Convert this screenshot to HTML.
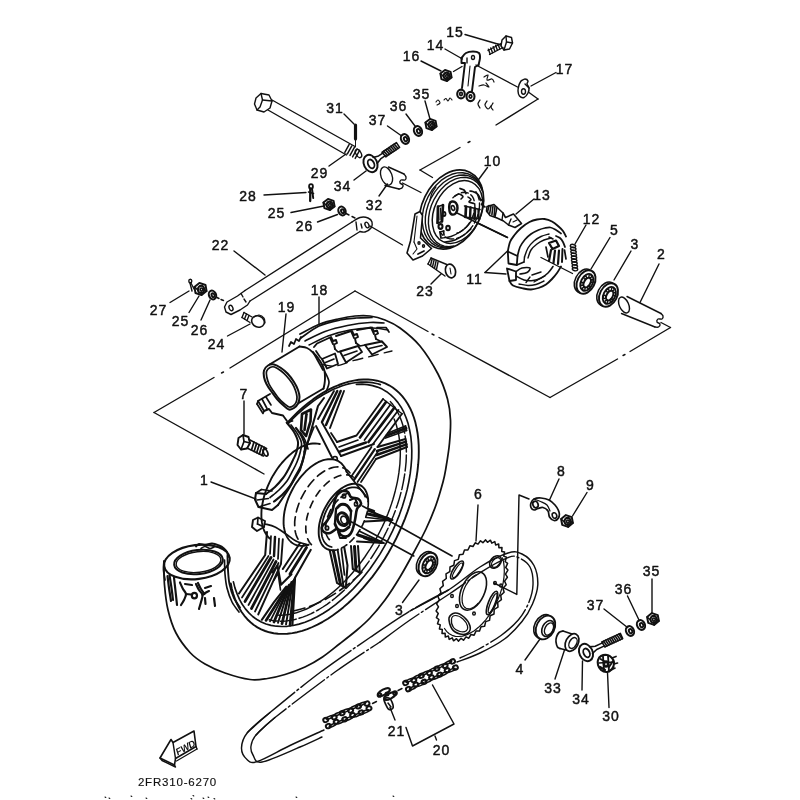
<!DOCTYPE html>
<html><head><meta charset="utf-8"><title>Rear wheel 2FR310-6270</title>
<style>
html,body{margin:0;padding:0;background:#fff;}
body{width:800px;height:800px;overflow:hidden;}
svg{display:block;filter:grayscale(1);}
svg text{font-family:"Liberation Sans",sans-serif;}
</style></head><body>
<svg width="800" height="800" viewBox="0 0 800 800">
<rect width="800" height="800" fill="#fff"/>
<g stroke="#111" stroke-width="1.4" fill="none" stroke-linecap="round" stroke-linejoin="round">
<g id="tire">
<path d="M300 334 C303.3 332.3 313.7 326.5 320 324 C326.3 321.5 332.2 320.3 338 319 C343.8 317.7 349.7 316.5 355 316 C360.3 315.5 365 315.3 370 316 C375 316.7 380 318 385 320 C390 322 394.2 323.7 400 328 C405.8 332.3 413.7 338.3 420 346 C426.3 353.7 433.4 365.2 438 374 C442.6 382.8 445.4 391.3 447.5 399 C449.6 406.7 450.2 412.7 450.5 420 C450.8 427.3 450.2 435.1 449.5 443 C448.8 450.9 447.1 461 446 467.5 C444.9 474 444.7 475.8 443 482 C441.3 488.2 438.8 497.2 436 505 C433.2 512.8 429.7 521.2 426 529 C422.3 536.8 418.3 544 414 552 C409.7 560 404.8 569 400 577 C395.2 585 390 593.2 385 600 C380 606.8 374.7 613 370 618 C365.3 623 362 625.8 357 630 C352 634.2 345.8 639 340 643.5 C334.2 648 328.3 653.1 322.5 657 C316.7 660.9 311.2 664.1 305 667 C298.8 669.9 291.2 672.6 285 674.5 C278.8 676.4 273.3 677.7 267.5 678.5 C261.7 679.3 257.1 680.4 250 679.5 C242.9 678.6 232.5 675.6 225 673 C217.5 670.4 210.8 667.4 205 664 C199.2 660.6 194.8 657.7 190 652.5 C185.2 647.3 179.7 640.1 176 633 C172.3 625.9 169.9 618 168 610 C166.1 602 165.2 593.2 164.5 585 C163.8 576.8 164.1 565 164 561" stroke-width="1.74"/>
<path d="M288 421.8 L292.9 416.8 L297.8 412 L302.8 407.5 L307.9 403.3 L313 399.4 L318.1 395.9 L323.3 392.6 L328.5 389.7 L333.6 387.2 L338.8 385 L343.9 383.1 L348.9 381.7 L353.8 380.6 L358.7 379.8 L363.4 379.5 L368.1 379.5 L372.6 379.9 L377 380.7 L381.2 381.9 L385.2 383.4 L389.1 385.3 L392.7 387.5 L396.2 390.2 L399.4 393.1 L402.4 396.4 L405.2 400 L407.8 404 L410.1 408.2 L412.1 412.7 L413.9 417.5 L415.4 422.6 L416.6 427.9 L417.6 433.5 L418.3 439.3 L418.7 445.3 L418.8 451.4 L418.7 457.7 L418.2 464.2 L417.5 470.8 L416.5 477.5 L415.2 484.3 L413.7 491.2 L411.9 498.1 L409.8 505 L407.5 511.9 L404.9 518.8 L402.1 525.7 L399 532.5 L395.8 539.3 L392.3 545.9 L388.6 552.5 L384.7 558.9 L380.7 565.1 L376.4 571.2 L372.1 577.1 L367.5 582.7 L362.9 588.2 L358.1 593.4 L353.2 598.3 L348.3 603 L343.2 607.4 L338.1 611.5 L333 615.3 L327.9 618.7 L322.7 621.8 L317.5 624.6 L312.4 627 L307.3 629.1 L302.2 630.8 L297.2 632.2 L292.3 633.1 L287.4 633.7 L282.7 633.9 L278.1 633.8 L273.7 633.2 L269.3 632.3 L265.2 631 L261.2 629.4 L257.4 627.4 L253.8 625 L250.5 622.3 L247.3 619.2 L244.4 615.8 L241.6 612 L239.2 608 L237 603.7 L235 599 L233.3 594.1 L231.9 589 L230.8 583.5" stroke-width="1.89"/>
<path d="M288.4 423.4 L291.4 420.2 L294.4 417.2 L297.5 414.2 L300.7 411.3 L303.8 408.6 L307 406 L310.2 403.5 L313.4 401.1 L316.6 398.8 L319.9 396.7 L323.1 394.7 L326.4 392.9 L329.6 391.2 L332.8 389.6 L336 388.2 L339.2 386.9 L342.4 385.8 L345.6 384.8 L348.7 383.9 L351.8 383.2 L354.9 382.7 L357.9 382.3 L360.9 382.1 L363.9 382 L366.7 382.1 L369.6 382.3 L372.4 382.6 L375.1 383.2 L377.8 383.8 L380.4 384.6" stroke-width="1.66"/>
<path d="M356.4 384.4 L362 384.2 L367.4 384.6 L372.6 385.6 L377.5 387.1 L382.2 389.1 L386.6 391.7 L390.7 394.8 L394.5 398.5 L398 402.6 L401.1 407.2 L403.8 412.2 L406.1 417.7 L408.1 423.6 L409.6 429.9 L410.8 436.5 L411.5 443.4 L411.8 450.7 L411.7 458.1 L411.1 465.8 L410.2 473.7 L408.8 481.8 L407.1 489.9 L404.9 498.1 L402.4 506.3 L399.5 514.6 L396.2 522.8 L392.6 530.9 L388.6 538.9 L384.3 546.7 L379.8 554.4 L374.9 561.8 L369.9 569 L364.6 575.8 L359.1 582.4 L353.4 588.6 L347.6 594.4 L341.6 599.7 L335.6 604.7 L329.5 609.2 L323.3 613.2 L317.2 616.7 L311.1 619.7 L305 622.2 L299 624.1 L293.1 625.5 L287.3 626.3 L281.7 626.5 L276.3 626.2 L271 625.4 L266 624 L261.3 622 L256.9 619.5 L252.7 616.5 L248.9 612.9 L245.4 608.9 L242.2 604.3 L239.5 599.3 L237.1 593.9 L235 588.1 L233.4 581.9" stroke-width="1.66"/>
<path d="M390.4 401.6 L392.7 404.3 L394.8 407.3 L396.7 410.4 L398.5 413.8 L400.1 417.4 L401.5 421.1 L402.8 425 L403.8 429.2 L404.7 433.4 L405.4 437.8 L405.9 442.4 L406.2 447.1 L406.4 451.9 L406.3 456.8 L406.1 461.9 L405.6 467 L405 472.2 L404.2 477.5 L403.2 482.8 L402.1 488.2 L400.7 493.6 L399.2 499.1 L397.5 504.5 L395.6 509.9 L393.5 515.4 L391.3 520.8 L389 526.2 L386.5 531.5 L383.8 536.8 L381 542 L378.1 547.1 L375 552.1 L371.9 557 L368.6 561.8 L365.2 566.5 L361.7 571 L358.1 575.4 L354.4 579.7 L350.6 583.8 L346.8 587.7 L342.9 591.4 L339 594.9 L335 598.3 L331 601.4 L327 604.3 L322.9 607 L318.9 609.5 L314.8 611.8 L310.7 613.8 L306.7 615.6 L302.7 617.1 L298.7 618.4 L294.8 619.5 L290.9 620.3 L287.1 620.9 L283.3 621.2 L279.7 621.2 L276.1 621 L272.6 620.5 L269.2 619.8" stroke-width="1.45" stroke-dasharray="16 3"/>
<path d="M394.1 418.9 L395.3 422.1 L396.4 425.3 L397.3 428.7 L398.2 432.2 L398.9 435.8 L399.4 439.6 L399.8 443.4 L400.1 447.4 L400.3 451.4 L400.3 455.5 L400.1 459.7 L399.9 464 L399.4 468.3 L398.9 472.7 L398.2 477.1 L397.4 481.6 L396.4 486.1 L395.3 490.7 L394.1 495.2 L392.8 499.8 L391.3 504.4 L389.7 509 L388 513.5 L386.1 518.1 L384.2 522.6 L382.1 527.1 L379.9 531.5 L377.6 535.9 L375.2 540.3 L372.8 544.6 L370.2 548.8 L367.5 552.9 L364.8 557 L361.9 561 L359 564.8 L356 568.6 L353 572.2 L349.9 575.8 L346.7 579.2 L343.5 582.5 L340.3 585.7 L337 588.7 L333.7 591.6 L330.3 594.3 L326.9 596.9 L323.5 599.3 L320.1 601.6 L316.7 603.7 L313.3 605.6 L309.9 607.4 L306.5 609 L303.1 610.4 L299.7 611.6 L296.4 612.7 L293.1 613.5 L289.8 614.2 L286.6 614.7 L283.4 615.1 L280.3 615.2 L277.3 615.1" stroke-width="1.45"/>
</g>
<g id="spokes">
<path d="M287 423 C288.2 424.5 292.2 428.8 294 432 C295.8 435.2 297.6 438.7 298 442 C298.4 445.3 297.3 449 296.5 452 C295.7 455 294.4 457 293 460 C291.6 463 289.7 467 288 470 C286.3 473 285.2 475.2 283 478 C280.8 480.8 277.8 484.3 275 487 C272.2 489.7 267.5 492.8 266 494" stroke-width="2.03"/>
<path d="M291 425 C292.1 426.5 295.8 431 297.5 434 C299.2 437 301.1 439.8 301.5 443 C301.9 446.2 300.8 449.8 300 453 C299.2 456.2 298.3 458.8 297 462 C295.7 465.2 293.7 468.8 292 472 C290.3 475.2 289.2 478 287 481 C284.8 484 281.8 487.2 279 490 C276.2 492.8 271.5 496.2 270 497.5" stroke-width="1.66"/>
<path d="M296 428 C297 429.5 300.5 434 302 437 C303.5 440 304.7 442.8 305 446 C305.3 449.2 304.7 452.7 304 456 C303.3 459.3 302.5 462.5 301 466 C299.5 469.5 296.8 473.7 295 477 C293.2 480.3 292.2 483 290 486 C287.8 489 284.7 492.4 282 495 C279.3 497.6 275.3 500.4 274 501.5" stroke-width="2.17"/>
<path d="M300 432 C300.8 433.3 303.7 437.2 305 440 C306.3 442.8 307.5 447.5 308 449" stroke-width="1.66"/>
<path d="M286.5 422.5 L292.5 421" stroke-width="1.74"/>
<path d="M266 494 L256 493 L255 499.5 L258.5 507 L272 510 L278 505" stroke-width="2.03"/>
<path d="M256 493 L261.5 489.5" stroke-width="1.66"/>
<path d="M261.5 489.5 L272 491" stroke-width="1.66"/>
<path d="M258.5 507 L270 503.5" stroke-width="1.66"/>
<path d="M257 500 L268.5 498.5" stroke-width="1.45"/>
<path d="M324 398 L318 406 L309 438 L305 452 L300 470 L288 490 L278 505" stroke-width="2.03"/>
<path d="M302 414 L311 409.5 L310.5 421 L306 436 L301 430 Z" stroke-width="2.61"/>
<path d="M306.5 414 L304.5 430" stroke-width="2.61"/>
<path d="M314 427 L304 452" stroke-width="1.66"/>
<path d="M318 419 L334 391" stroke-width="1.89"/>
<path d="M322 422 L337.3 391" stroke-width="2.46"/>
<path d="M326 425 L340.7 391" stroke-width="2.46"/>
<path d="M330 428 L344 391" stroke-width="1.89"/>
<path d="M316 426 L332 457.5" stroke-width="1.89"/>
<path d="M322 422.5 L341 456" stroke-width="1.89"/>
<ellipse cx="335" cy="459" rx="2.3" ry="2.5" stroke-width="1.74"/>
<path d="M337 442 L356.5 435.5 L383 399" stroke-width="1.89"/>
<path d="M331 433 L337 442" stroke-width="1.74"/>
<path d="M341 456 L374 444" stroke-width="1.89"/>
<path d="M339 447 L358 440" stroke-width="1.66"/>
<path d="M340 451.5 L366 442.5" stroke-width="2.61"/>
<path d="M360 437.5 L386 402" stroke-width="2.75"/>
<path d="M364.5 440 L390.5 404.5" stroke-width="1.74"/>
<path d="M368.5 442 L394.5 407.5" stroke-width="2.75"/>
<path d="M373 444 L398.5 410" stroke-width="1.74"/>
<path d="M377.5 447 L402 413.8" stroke-width="1.89"/>
<path d="M383 399 L402 413.8" stroke-width="1.45"/>
<path d="M388 433 L405.5 426" stroke-width="1.74"/>
<path d="M386.8 435.5 L406 428.2" stroke-width="2.9"/>
<path d="M385.5 438 L406.5 430.5" stroke-width="1.74"/>
<path d="M377.5 447 L405.5 439" stroke-width="1.89"/>
<path d="M377 451 L406 441.7" stroke-width="2.46"/>
<path d="M376.5 455 L406.5 444.3" stroke-width="2.46"/>
<path d="M376 459 L407 447" stroke-width="1.89"/>
<path d="M405.5 426 L406.5 430.5" stroke-width="1.66"/>
<path d="M405.5 439 L407 447" stroke-width="1.66"/>
<path d="M371.5 447 L347.5 482" stroke-width="1.74"/>
<path d="M374.8 449.2 L352.5 482" stroke-width="2.32"/>
<path d="M378 451.5 L357.5 482" stroke-width="1.74"/>
<path d="M376 459 L361 482" stroke-width="1.74"/>
<path d="M360 507.5 L392.5 520 L356 522" stroke-width="1.89"/>
<path d="M359 512 L388 518.5" stroke-width="2.9"/>
<path d="M358 516.5 L389 520" stroke-width="1.74"/>
<path d="M366 508 L374 511" stroke-width="2.32"/>
<path d="M358 530.5 L384 543 L357 541.5" stroke-width="1.89"/>
<path d="M358 535 L381 542.5" stroke-width="2.9"/>
<path d="M364 538 L372 541" stroke-width="1.89"/>
<path d="M328 542.5 L337 583 L345.8 588.2 L347.5 565.5 L344 546" stroke-width="2.03"/>
<path d="M332 544 L340.5 584.5" stroke-width="3.04"/>
<path d="M337 546 L343.5 586" stroke-width="1.89"/>
<path d="M341 546 L344.5 575" stroke-width="1.74"/>
<path d="M351 546 L352.8 569 L359.8 572.5 L358 546" stroke-width="2.03"/>
<path d="M354.5 546.5 L356 570" stroke-width="3.04"/>
<path d="M267 532 L265.2 555 L239 593.5" stroke-width="2.03"/>
<path d="M282.8 539.2 L281 563.8 L258.2 614.5" stroke-width="1.89"/>
<path d="M268.5 556 L242 597.5" stroke-width="1.74"/>
<path d="M271 557.5 L245 601.5" stroke-width="2.75"/>
<path d="M273.5 559.5 L248.5 605" stroke-width="1.74"/>
<path d="M276 561.5 L251.5 608.5" stroke-width="2.75"/>
<path d="M278.5 563 L255 611.5" stroke-width="1.74"/>
<path d="M271 536 L270 554" stroke-width="1.74"/>
<path d="M275 537 L274 556" stroke-width="2.46"/>
<path d="M279 538.5 L278 559" stroke-width="1.74"/>
<path d="M272.2 572.5 L277.5 565.5 L281 584.8 L291.5 574.2" stroke-width="2.03"/>
<path d="M274 580 L278 573 L280.5 590" stroke-width="1.66"/>
<path d="M300.2 542.8 L282.8 569" stroke-width="2.03"/>
<path d="M310.8 549.8 L295 577.8" stroke-width="2.03"/>
<path d="M303.5 545 L286 571.5" stroke-width="1.74"/>
<path d="M306.5 547.5 L290 574" stroke-width="2.9"/>
<path d="M295 577.8 L292.4 625" stroke-width="2.17"/>
<path d="M286.2 586.5 L274 602.2 L261.8 619.8" stroke-width="2.03"/>
<path d="M286.5 588 L266 620.5" stroke-width="2.61"/>
<path d="M287.8 586.6 L270 621.3" stroke-width="1.74"/>
<path d="M289.1 585.2 L274 622.1" stroke-width="2.75"/>
<path d="M290.4 583.8 L278 622.9" stroke-width="1.89"/>
<path d="M291.7 582.4 L282 623.7" stroke-width="2.75"/>
<path d="M293 581 L286 624.5" stroke-width="1.89"/>
<path d="M294.3 579.6 L290 625.3" stroke-width="2.61"/>
<path d="M293.2 611 C295.7 610.3 303 608.8 308 607 C313 605.2 318.3 602.8 323 600.5 C327.7 598.2 331.9 595.6 336 593 C340.1 590.4 344 587.4 347.5 584.8 C351 582.1 354.1 579.6 357 577 C359.9 574.4 363.7 570.3 365 569" stroke-width="1.66" stroke-dasharray="12 5"/>
</g>
<g id="hub">
<path d="M269.7 538.5 L268.1 536.9 L266.7 535.1 L265.4 533 L264.2 530.8 L263.3 528.3 L262.5 525.7 L262 522.9 L261.6 520 L261.4 516.9 L261.4 513.7 L261.5 510.4 L261.9 507 L262.5 503.5 L263.2 500 L264.1 496.4 L265.2 492.9 L266.5 489.3 L267.9 485.8 L269.5 482.3 L271.2 478.8 L273.1 475.4 L275.1 472.2 L277.2 469 L279.5 465.9 L281.8 463 L284.2 460.3 L286.7 457.7 L289.3 455.3 L291.9 453.1 L294.5 451.1 L297.2 449.3 L299.8 447.7 L302.5 446.4 L305.1 445.3 L307.7 444.4 L310.3 443.8 L312.8 443.5 L315.2 443.4 L317.5 443.6 L319.8 444" stroke-width="1.89"/>
<path d="M285 532.2 L284.4 529.6 L283.9 526.9 L283.6 524 L283.6 521.1 L283.7 518 L284 514.8 L284.5 511.5 L285.2 508.2 L286.1 504.8 L287.2 501.5 L288.4 498.1 L289.8 494.8 L291.4 491.5 L293.1 488.2 L294.9 485.1 L296.9 482.1 L299 479.2 L301.2 476.4 L303.5 473.8 L305.8 471.3 L308.2 469.1 L310.7 467 L313.2 465.2 L315.7 463.6 L318.2 462.2 L320.7 461.1 L323.2 460.2 L325.6 459.6 L328 459.2 L330.3 459.1 L332.5 459.2 L334.6 459.6 L336.6 460.3 L338.5 461.2 L340.2 462.4 L341.8 463.8 L343.2 465.5 L344.5 467.3 L345.6 469.4 L346.5 471.7 L368.1 498.9 L368.1 498.9 L368.3 501.9 L368.2 505.1 L367.8 508.4 L367.2 511.8 L366.3 515.2 L365.2 518.7 L363.8 522.2 L362.2 525.6 L360.4 528.9 L358.5 532.1 L356.3 535.1 L354 537.9 L351.6 540.5 L349.1 542.8 L346.6 544.9 L344 546.6 L341.4 548.1 L338.8 549.1 L336.3 549.9 L333.9 550.3 L286 534.8 L286 534.8 L285.6 534 L285.3 533.1 L285 532.2" stroke-width="1.89" fill="#fff" stroke="none"/>
<path d="M285 532.2 L284.4 529.6 L283.9 526.9 L283.6 524 L283.6 521.1 L283.7 518 L284 514.8 L284.5 511.5 L285.2 508.2 L286.1 504.8 L287.2 501.5 L288.4 498.1 L289.8 494.8 L291.4 491.5 L293.1 488.2 L294.9 485.1 L296.9 482.1 L299 479.2 L301.2 476.4 L303.5 473.8 L305.8 471.3 L308.2 469.1 L310.7 467 L313.2 465.2 L315.7 463.6 L318.2 462.2 L320.7 461.1 L323.2 460.2 L325.6 459.6 L328 459.2 L330.3 459.1 L332.5 459.2 L334.6 459.6 L336.6 460.3 L338.5 461.2 L340.2 462.4 L341.8 463.8 L343.2 465.5 L344.5 467.3 L345.6 469.4 L346.5 471.7" stroke-width="1.89"/>
<path d="M308.8 544.7 L307.1 545.2 L305.5 545.5 L303.9 545.8 L302.4 545.9 L300.8 545.9 L299.4 545.7 L297.9 545.5 L296.5 545.1 L295.2 544.6 L293.9 544 L292.7 543.3 L291.6 542.5 L290.5 541.5 L289.5 540.5 L288.5 539.3 L287.7 538.1 L286.9 536.7 L286.2 535.3 L285.5 533.8 L285 532.2" stroke-width="1.74"/>
<path d="M346.5 471.7 L368.1 498.9" stroke-width="1.74"/>
<path d="M298 539.2 L297 537.2 L296.2 535.1 L295.5 532.7 L295 530.2 L294.8 527.6 L294.7 524.8 L294.7 521.9 L295 518.9 L295.5 515.9 L296.1 512.8 L296.9 509.6 L297.9 506.5 L299 503.3 L300.3 500.2 L301.8 497.1 L303.4 494.1 L305.1 491.2 L306.9 488.3 L308.9 485.6 L310.9 483 L313.1 480.5 L315.3 478.3 L317.5 476.2 L319.8 474.2 L322.2 472.5 L324.5 471 L326.9 469.7 L329.2 468.7 L331.5 467.9 L333.8 467.3 L336 467 L338.1 466.9 L340.2 467.1 L342.1 467.5 L344 468.2 L345.7 469.1 L347.3 470.2 L348.8 471.6 L350.1 473.1 L351.3 474.9" stroke-width="1.66" stroke-dasharray="9 5"/>
<path d="M311.4 544.6 L310.2 543.3 L309.1 541.7 L308.2 540 L307.4 538.1 L306.7 536.1 L306.3 533.9 L305.9 531.5 L305.8 529.1 L305.8 526.6 L305.9 524 L306.3 521.3 L306.7 518.5 L307.4 515.7 L308.2 512.9 L309.1 510.1 L310.2 507.3 L311.4 504.5 L312.7 501.8 L314.2 499.1 L315.7 496.5 L317.4 493.9 L319.1 491.5 L321 489.2 L322.9 487 L324.9 485 L326.9 483.1 L329 481.4 L331.1 479.9 L333.2 478.6 L335.3 477.4 L337.4 476.5 L339.4 475.7 L341.5 475.2 L343.4 474.9 L345.4 474.8 L347.2 474.9 L349 475.2 L350.7 475.7 L352.3 476.5 L353.7 477.4" stroke-width="1.66" stroke-dasharray="7 6"/>
<path d="M333.9 550.3 L331.9 550.3 L330.1 550.1 L328.4 549.6 L326.7 548.9 L325.2 548 L323.9 546.9 L322.6 545.5 L321.6 543.9 L320.7 542.2 L319.9 540.2 L319.3 538.1 L318.9 535.8 L318.7 533.4 L318.7 530.9 L318.8 528.2 L319.1 525.5 L319.6 522.7 L320.3 519.9 L321.2 517.1 L322.2 514.2 L323.3 511.4 L324.6 508.7 L326.1 505.9 L327.7 503.3 L329.3 500.8 L331.1 498.4 L333 496.1 L335 493.9 L337 492 L339.1 490.2 L341.2 488.6 L343.3 487.3 L345.4 486.1 L347.5 485.2 L349.6 484.5 L351.6 484 L353.6 483.8 L355.5 483.9 L357.3 484.1 L359 484.6 L360.6 485.4 L362.1 486.4 L363.4 487.6 L364.6 489 L365.6 490.6 L366.5 492.5 L367.2 494.5 L367.7 496.6 L368.1 498.9 L368.2 501.4" stroke-width="1.89"/>
<path d="M368.2 501.4 L368.3 503.4 L368.2 505.4 L367.9 507.5 L367.6 509.7 L367.2 511.9 L366.7 514.1 L366 516.3 L365.3 518.5 L364.4 520.7 L363.5 522.9 L362.5 525.1 L361.4 527.2 L360.2 529.3 L358.9 531.4 L357.6 533.4 L356.2 535.3 L354.7 537.1 L353.2 538.8 L351.7 540.4 L350.1 542 L348.5 543.4 L346.9 544.7 L345.2 545.9 L343.6 546.9 L341.9 547.8 L340.2 548.6 L338.6 549.2 L337 549.7 L335.4 550.1 L333.9 550.3" stroke-width="1.66" stroke-dasharray="6 4"/>
<path d="M331.7 547 L329.4 546.3 L327.3 545.2 L325.5 543.5 L324 541.5 L322.9 539 L322 536.2 L321.6 533.1 L321.4 529.7 L321.7 526.1 L322.3 522.4 L323.3 518.6 L324.6 514.7 L326.2 510.9 L328.1 507.2 L330.3 503.7 L332.7 500.4 L335.2 497.4 L338 494.7 L340.8 492.3 L343.6 490.4 L346.5 488.9 L349.3 487.9 L352 487.3 L354.6 487.3 L357 487.7 L359.2 488.6 L361.2 490 L362.8 491.9 L364.2 494.1 L365.2 496.7" stroke-width="1.74"/>
<path d="M329.4 539.7 L328.5 538.6 L327.7 537.4 L327 536 L326.4 534.5 L326 532.8 L325.7 531.1 L325.6 529.2 L325.6 527.2 L325.8 525.2 L326.1 523.1 L326.5 521 L327 518.8 L327.7 516.6 L328.6 514.5 L329.5 512.3 L330.5 510.2 L331.7 508.2 L332.9 506.2 L334.3 504.3 L335.7 502.5 L337.2 500.8 L338.7 499.3 L340.3 497.8 L341.9 496.6 L343.5 495.5 L345.1 494.5 L346.7 493.8 L348.3 493.2 L349.9 492.8 L351.4 492.5" stroke-width="1.66" stroke-dasharray="8 4"/>
<path d="M342.5 491 C344.2 490.8 346.6 491 348 492 C349.4 493 349.2 495.8 351 497 C352.8 498.2 356.8 497.8 358.5 499 C360.2 500.2 361.2 502.3 361 504 C360.8 505.7 358 506.3 357 509 C356 511.7 355.8 516.3 355 520 C354.2 523.7 353.2 528.3 352 531 C350.8 533.7 349.8 535.3 348 536 C346.2 536.7 342.8 536.2 341 535 C339.2 533.8 338.8 529.3 337 529 C335.2 528.7 332.2 532.5 330 533 C327.8 533.5 325.3 533 324 532 C322.7 531 321.5 528.8 322 527 C322.5 525.2 325.3 523.5 327 521 C328.7 518.5 330.7 515.5 332 512 C333.3 508.5 334 503.2 335 500 C336 496.8 336.8 494.5 338 493 C339.2 491.5 340.8 491.2 342.5 491 Z" stroke-width="2.61"/>
<ellipse cx="342.8" cy="519.2" rx="5.2" ry="6.6" stroke-width="2.9" transform="rotate(-25 342.8 519.2)"/>
<ellipse cx="344" cy="520" rx="3" ry="4" stroke-width="1.66" transform="rotate(-25 344 520)"/>
<ellipse cx="344" cy="496" rx="1.6" ry="2" stroke-width="1.74"/>
<ellipse cx="327" cy="528" rx="1.6" ry="2" stroke-width="1.74"/>
<ellipse cx="356" cy="504" rx="1.5" ry="2" stroke-width="1.74"/>
<path d="M337 508 C337.7 507.4 339.3 504.9 341 504.5 C342.7 504.1 345.3 504.4 347 505.5 C348.7 506.6 350.3 510.1 351 511" stroke-width="2.9"/>
<path d="M335 524 C335.5 524.9 336.5 528.4 338 529.5 C339.5 530.6 342.2 530.9 344 530.5 C345.8 530.1 348.2 527.6 349 527" stroke-width="2.9"/>
<path d="M336 509 L335 523" stroke-width="2.32"/>
<path d="M351 512 L350 525" stroke-width="2.32"/>
<path d="M350 500 L355 498 L357 503" stroke-width="2.03"/>
<path d="M338 532 L340 538 L346 538" stroke-width="1.89"/>
<path d="M253 520 L258 517.5 L265 521 L264 527 L257 531 L252 527 Z" stroke-width="1.89"/>
<path d="M258 517.5 L257.5 524" stroke-width="1.66"/>
<path d="M257.5 524 L264 527" stroke-width="1.66"/>
<path d="M265 524 C266.7 524.5 271.5 525.3 275 527 C278.5 528.7 282.5 531.7 286 534 C289.5 536.3 292.3 539.2 296 541 C299.7 542.8 306 544.3 308 545" stroke-width="1.74"/>
</g>
<g id="hubaxis">
<path d="M362.5 506 L452 556" stroke-width="1.66"/>
<path d="M347 519.5 L413.8 556" stroke-width="1.66"/>
</g>
<g id="tube19">
<path d="M301 338 C304 336 312.5 329 319 326 C325.5 323 333.8 321.3 340 320 C346.2 318.7 350.7 318.4 356 318 C361.3 317.6 369.3 317.6 372 317.5" stroke-width="1.66"/>
<path d="M305 341 C308.3 339.4 317.9 334.1 325 331.5 C332.1 328.9 340 327 347.5 325.5 C355 324 363.9 322.9 370 322.5 C376.1 322.1 381.7 322.9 384 323" stroke-width="1.66"/>
<path d="M309 345 C312.2 343.5 321.2 338.5 328 336 C334.8 333.5 342.7 331.3 350 330 C357.3 328.7 365.7 328 372 328 C378.3 328 385.3 329.7 388 330" stroke-width="1.45"/>
<path d="M289 346 L291 342 L294 344 L296 339 L299 341 L301 337" stroke-width="1.74"/>
<path d="M314 347 L317 343.5 L330 337.5 L333 344" stroke-width="1.89"/>
<path d="M336 336 L351 331 L354 338" stroke-width="1.89"/>
<path d="M357 330 L371 327.5 L374 334" stroke-width="1.89"/>
<path d="M377 327.5 L386 327.5 L389 332" stroke-width="1.74"/>
<path d="M331 337 L333 341 L336 340 L337 343 L334 344.5 L335 349" stroke-width="1.89"/>
<path d="M352 331 L354 335 L357 334 L358 337 L355 338.5 L356 343" stroke-width="1.89"/>
<path d="M372 327.5 L374 331.5 L377 330.5 L378 333.5 L375 335 L376 339" stroke-width="1.89"/>
<path d="M322 359 L335 353.5 L338 364 L327 368.5 Z" stroke-width="1.89"/>
<path d="M340 351.5 L358 346 L362 352 L346 362.5 Z" stroke-width="1.89"/>
<path d="M365 345 L382 341.5 L387 347 L372 354.5 Z" stroke-width="1.89"/>
<path d="M316 351 L320 357 L322 359" stroke-width="1.74"/>
<path d="M335 349 L338 352 L340 351.5" stroke-width="1.74"/>
<path d="M356 343 L360 346 L365 345" stroke-width="1.74"/>
<path d="M376 339 L380 341 L382 341.5" stroke-width="1.66"/>
<path d="M344 355.5 L357 351" stroke-width="1.66"/>
<path d="M369 348.5 L382 345.5" stroke-width="1.66"/>
<path d="M325.5 362.5 L334 359" stroke-width="1.66"/>
<path d="M313 352 L318 361 L323 370" stroke-width="1.74"/>
<path d="M325 372 C325.7 373.7 328.8 378.7 329 382 C329.2 385.3 326.5 390.3 326 392" stroke-width="1.66"/>
<path d="M322 364.5 C324.3 364.8 331 366.6 336 366 C341 365.4 346 362.7 352 361 C358 359.3 365.3 357.7 372 356 C378.7 354.3 388.7 351.8 392 351" stroke-width="1.3" stroke-dasharray="10 6"/>
<path d="M269.5 364.5 L299.5 346.5" stroke-width="1.89"/>
<path d="M299.5 346.5 C300.8 346.8 304.8 347 307 348 C309.2 349 311.2 350.8 313 352.5 C314.8 354.2 316.5 356 318 358 C319.5 360 320.9 362.3 322 364.5 C323.1 366.7 324 368.8 324.5 371 C325 373.2 325 375.8 325 378 C325 380.2 324.8 382.2 324.5 384 C324.2 385.8 323.7 387.8 323.5 388.5" stroke-width="1.89"/>
<path d="M298 403.5 L323.5 388.5" stroke-width="1.89"/>
<path d="M264 370.5 C264.7 368.6 266.3 366.5 268 365.5 C269.7 364.5 271.8 364.1 274 364.5 C276.2 364.9 278.8 366.5 281 368 C283.2 369.5 285.3 371.2 287.5 373.5 C289.7 375.8 292.2 379.2 294 382 C295.8 384.8 297.1 387.5 298 390 C298.9 392.5 299.5 394.8 299.5 397 C299.5 399.2 298.9 401.7 298 403.5 C297.1 405.3 295.5 407 294 408 C292.5 409 290.8 410 289 409.5 C287.2 409 285 406.8 283 405 C281 403.2 279 401.3 277 399 C275 396.7 272.8 393.5 271 391 C269.2 388.5 267.7 386.3 266.5 384 C265.3 381.7 264.4 379.2 264 377 C263.6 374.8 263.3 372.4 264 370.5 Z" stroke-width="2.03" fill="#fff"/>
<path d="M266.5 371.5 C267 369.9 268.7 368.2 270 367.5 C271.3 366.8 272.8 366.5 274.5 367 C276.2 367.5 278.6 369.1 280.5 370.5 C282.4 371.9 284.1 373.4 286 375.5 C287.9 377.6 290.4 380.5 292 383 C293.6 385.5 294.7 388.2 295.5 390.5 C296.3 392.8 296.9 395 297 397 C297.1 399 296.7 401 296 402.5 C295.3 404 294.2 405.2 293 406 C291.8 406.8 290.5 407.4 289 407 C287.5 406.6 285.8 405 284 403.5 C282.2 402 280.3 400.2 278.5 398 C276.7 395.8 274.6 392.8 273 390.5 C271.4 388.2 270 386.2 269 384 C268 381.8 267.2 379.1 266.8 377 C266.4 374.9 266 373.1 266.5 371.5 Z" stroke-width="1.74"/>
<path d="M270 394 L258 401 L264 411 L269 409 L272 413 L283 415.5 L287 421" stroke-width="1.89"/>
<path d="M262 399 L267 408.5" stroke-width="1.66"/>
<path d="M266 397 L271 405" stroke-width="1.66"/>
<path d="M258 401 L257 404" stroke-width="1.66"/>
<path d="M257 404 L263 413.5 L264 411" stroke-width="1.66"/>
</g>
<g id="tirecut">
<ellipse cx="197" cy="562" rx="33" ry="17" stroke-width="2.03" fill="#fff" transform="rotate(-7 197 562)"/>
<ellipse cx="198.5" cy="562" rx="24.5" ry="12" stroke-width="2.03" transform="rotate(-7 198.5 562)"/>
<ellipse cx="198.5" cy="562" rx="22.5" ry="10.3" stroke-width="1.45" transform="rotate(-7 198.5 562)"/>
<path d="M227.5 556 C227.6 558.3 227.7 565.3 228 570 C228.3 574.7 228.5 579.3 229.5 584 C230.5 588.7 232.2 594.1 234 598 C235.8 601.9 239 605.9 240 607.5" stroke-width="1.89"/>
<path d="M224.5 560 C224.6 562.3 224.6 569.3 225 574 C225.4 578.7 225.8 583.3 227 588 C228.2 592.7 230 598 232 602 C234 606 237.8 610.3 239 612" stroke-width="1.66"/>
<path d="M196 546.5 C196.5 546.1 197.5 544.2 199 544 C200.5 543.8 202.8 545.1 205 545 C207.2 544.9 209.7 543.4 212 543.5 C214.3 543.6 217 544.7 219 545.5 C221 546.3 222.7 547.4 224 548.5 C225.3 549.6 226.3 550.6 227 552 C227.7 553.4 227.8 556.2 228 557" stroke-width="1.89"/>
<path d="M201 548.5 C201.7 548.2 203.5 546.5 205 546.5 C206.5 546.5 208.5 548.4 210 548.5 C211.5 548.6 213.3 547.2 214 547" stroke-width="1.66"/>
<path d="M164 561 C163.9 562.5 163.3 566.8 163.5 570 C163.7 573.2 164.8 578.3 165 580" stroke-width="1.74"/>
<path d="M167.5 576 C167.8 578 168.4 583.8 169 588 C169.6 592.2 170.7 598.8 171 601" stroke-width="2.17"/>
<path d="M169.5 575 C169.8 577.2 170.9 583.8 171.5 588 C172.1 592.2 172.8 598 173 600" stroke-width="2.17"/>
<path d="M174 577.5 C174.2 579.8 175 586.4 175.5 591 C176 595.6 176.8 602.7 177 605" stroke-width="2.17"/>
<path d="M180 582.5 C180.5 583.6 182 587.1 183 589 C184 590.9 185.8 592.2 186 594 C186.2 595.8 184.8 598.2 184 600 C183.2 601.8 181.5 604.2 181 605" stroke-width="2.17"/>
<path d="M186 594 L191 594.5" stroke-width="2.17"/>
<path d="M196 584 C196.5 585 197.9 588.2 199 590 C200.1 591.8 202.2 593 202.5 595 C202.8 597 201.6 599.7 201 602 C200.4 604.3 199.3 607.8 199 609" stroke-width="2.17"/>
<path d="M198 583 C198.5 584 199.9 587.2 201 589 C202.1 590.8 203.9 593.2 204.5 594" stroke-width="2.17"/>
<path d="M202.5 595 C203.1 594.6 204.9 593.2 206 592.5 C207.1 591.8 208.5 591.2 209 591" stroke-width="2.17"/>
<path d="M205 598 L205.5 604" stroke-width="2.17"/>
<path d="M214 598 L215 606" stroke-width="2.17"/>
<path d="M185 584 L192 585" stroke-width="2.17"/>
<path d="M205 588 L211 586" stroke-width="2.17"/>
<ellipse cx="194.4" cy="595.6" rx="2.6" ry="2.8" stroke-width="2.17"/>
</g>
<g id="bolt7">
<path d="M238.5 438 L243 435 L248.5 437 L250 443 L247 448.5 L241 449.5 L237.5 445 Z" stroke-width="1.89"/>
<path d="M243 435 L244 441.5 L241 449.5" stroke-width="1.66"/>
<path d="M244 441.5 L250 443" stroke-width="1.66"/>
<path d="M249 439.5 L266.5 448.5" stroke-width="1.66"/>
<path d="M247 448 L263.5 456" stroke-width="1.66"/>
<ellipse cx="265.5" cy="452.5" rx="2" ry="3.8" stroke-width="1.74" transform="rotate(-25 265.5 452.5)"/>
<path d="M254 442 L251.5 450" stroke-width="1.74"/>
<path d="M256.6 443.4 L254.1 451.4" stroke-width="1.74"/>
<path d="M259.2 444.7 L256.7 452.7" stroke-width="1.74"/>
<path d="M261.8 446.1 L259.3 454.1" stroke-width="1.74"/>
<path d="M264.4 447.4 L261.9 455.4" stroke-width="1.74"/>
</g>
<g id="boxlines">
<path d="M154 412.5 L214 377.5"/>
<path d="M221.5 373 L223.5 372"/>
<path d="M230 368 L355 291"/>
<path d="M355 291 L428 331.5"/>
<path d="M432 334 L434 335"/>
<path d="M439 337.5 L550 397.5"/>
<path d="M550 397.5 L617.5 359"/>
<path d="M623 355.5 L625 354.5"/>
<path d="M630 351.5 L670.5 327.5"/>
<path d="M670.5 327.5 L661 322.5"/>
<path d="M154 412.5 L264 474"/>
<path d="M476 65 L517.5 87"/>
<path d="M529 92.5 L538 99"/>
<path d="M538 99 L496 125"/>
<path d="M468 142.5 L470 141.5"/>
<path d="M460 147.5 L420 170"/>
<path d="M420 170 L432.5 177.5"/>
<path d="M402.5 183 L421 192.5"/>
<path d="M370 226 L402.5 245"/>
<path d="M456 212.5 L507.5 237.5"/>
<path d="M541 257.5 L572.5 273.5"/>
</g>
<g id="axle29">
<path d="M256 98 L261 93.5 L269 95 L272 101 L270 108 L264 112 L257 110 L254.5 104 Z"/>
<path d="M261 93.5 L262.5 100 L260 107 L257 110"/>
<path d="M262.5 100 L272 101"/>
<path d="M272 100 L355 146.5"/>
<path d="M268 110 L346.5 155"/>
<path d="M349.2 144.4 L344.8 152.4" stroke-width="1.46"/>
<path d="M351.8 145.9 L347.4 153.9" stroke-width="1.46"/>
<path d="M354.4 147.4 L350 155.4" stroke-width="1.46"/>
<path d="M357 148.9 L352.6 156.9" stroke-width="1.46"/>
<path d="M359.6 150.4 L355.2 158.4" stroke-width="1.46"/>
<ellipse cx="358.5" cy="153.5" rx="2.5" ry="4.5" transform="rotate(-30 358.5 153.5)"/>
<path d="M355.5 125 L355.5 139" stroke-width="3.17"/>
<path d="M355.5 140 L355.5 147" stroke-width="0.98"/>
</g>
<g id="adj_upper">
<ellipse cx="370.5" cy="163.5" rx="6.6" ry="9" stroke-width="1.95" fill="#fff" transform="rotate(-25 370.5 163.5)"/>
<ellipse cx="371.1" cy="163.9" rx="3" ry="4.6" stroke-width="1.83" transform="rotate(-25 371.1 163.9)"/>
<path d="M377.1 163.4 L380.6 158.9 L385.3 155.7 L385.9 156.7 L399.6 147.4 L396.4 142.6 L382.6 151.8 L383.2 152.8 L378.6 155.9 L373.1 157.4" stroke-width="1.59"/>
<path d="M385.9 156.7 L382 152.3" stroke-width="1.59"/>
<path d="M387.6 155.5 L383.7 151.1" stroke-width="1.59"/>
<path d="M389.4 154.3 L385.5 149.9" stroke-width="1.59"/>
<path d="M391.1 153.1 L387.2 148.8" stroke-width="1.59"/>
<path d="M392.8 152 L388.9 147.6" stroke-width="1.59"/>
<path d="M394.6 150.8 L390.7 146.4" stroke-width="1.59"/>
<path d="M396.3 149.6 L392.4 145.3" stroke-width="1.59"/>
<path d="M398.1 148.5 L394.2 144.1" stroke-width="1.59"/>
<ellipse cx="405" cy="139" rx="3.9" ry="5" stroke-width="2.07" fill="#fff" transform="rotate(-25 405 139)"/>
<ellipse cx="405.6" cy="139.2" rx="1.6" ry="2.2" stroke-width="1.95" transform="rotate(-25 405.6 139.2)"/>
<ellipse cx="418" cy="131" rx="3.9" ry="5" stroke-width="2.07" fill="#fff" transform="rotate(-25 418 131)"/>
<ellipse cx="418.6" cy="131.2" rx="1.6" ry="2.2" stroke-width="1.95" transform="rotate(-25 418.6 131.2)"/>
<path d="M436.6 126.4 L432 130.1 L426.4 128.2 L425.4 122.6 L430 118.9 L435.6 120.8 Z" stroke-width="1.95" fill="#fff"/>
<ellipse cx="431.6" cy="124.9" rx="3" ry="3.3" stroke-width="2.07"/>
<ellipse cx="431.9" cy="125.1" rx="1.2" ry="1.5" stroke-width="1.71"/>
<path d="M436.6 126.4 L433.7 124.5" stroke-width="1.59"/>
<path d="M425.4 122.6 L428.6 125.5" stroke-width="1.59"/>
<path d="M432 130.1 L432 127.5" stroke-width="1.59"/>
</g>
<g id="collar32">
<ellipse cx="386.5" cy="176" rx="5.5" ry="9.5" transform="rotate(-20 386.5 176)"/>
<path d="M388.5 167 L404 174"/>
<path d="M385 185.5 L399 189"/>
<path d="M404 174 C404.3 174.5 405.8 176 406 177 C406.2 178 405.8 179.5 405 180 C404.2 180.5 401.8 179.5 401 180 C400.2 180.5 399.7 182.2 400 183 C400.3 183.8 402.7 184.2 403 185 C403.3 185.8 402.7 187.3 402 188 C401.3 188.7 399.5 188.8 399 189"/>
</g>
<g id="small_upper">
<ellipse cx="311" cy="186.5" rx="1.9" ry="2.3" stroke-width="1.83"/>
<path d="M310.3 188.5 L310.2 201" stroke-width="2.32"/>
<path d="M312 188.5 L313.2 198" stroke-width="1.95"/>
<path d="M308.5 192 L313.5 193.5" stroke-width="1.59"/>
<path d="M334.6 206.4 L330 210.1 L324.4 208.2 L323.4 202.6 L328 198.9 L333.6 200.8 Z" stroke-width="1.95" fill="#fff"/>
<ellipse cx="329.6" cy="204.9" rx="3" ry="3.3" stroke-width="2.07"/>
<ellipse cx="329.9" cy="205.1" rx="1.2" ry="1.5" stroke-width="1.71"/>
<path d="M334.6 206.4 L331.7 204.5" stroke-width="1.59"/>
<path d="M323.4 202.6 L326.6 205.5" stroke-width="1.59"/>
<path d="M330 210.1 L330 207.5" stroke-width="1.59"/>
<ellipse cx="342" cy="211" rx="3.5" ry="4.5" stroke-width="2.07" fill="#fff" transform="rotate(-25 342 211)"/>
<ellipse cx="342.6" cy="211.2" rx="1.4" ry="2" stroke-width="1.95" transform="rotate(-25 342.6 211.2)"/>
<path d="M346 213.5 L349 215"/>
<path d="M352 216.5 L355 218"/>
</g>
<g id="rod22">
<path d="M352 222 L245 290.5"/>
<path d="M360 231.5 L250 301"/>
<path d="M352 222 C353.3 221.2 357.3 218.2 360 217.5 C362.7 216.8 366 217.2 368 218 C370 218.8 371.5 220.3 372 222 C372.5 223.7 372.2 226.3 371 228 C369.8 229.7 366.8 231.4 365 232 C363.2 232.6 360.8 231.6 360 231.5"/>
<ellipse cx="367" cy="225" rx="1.8" ry="3" transform="rotate(-25 367 225)"/>
<path d="M356 222 L357 230"/>
<path d="M361 224 L362 228"/>
<path d="M245 290.5 L237.5 296 L227 302 L224.5 307 L226 312 L231 314.5 L240 310 L247.5 305 L250 301"/>
<ellipse cx="231" cy="308" rx="1.8" ry="2.8" transform="rotate(-25 231 308)"/>
<path d="M241 293.5 L243 297"/>
<path d="M244 299 L246 302"/>
<ellipse cx="190.3" cy="281" rx="1.5" ry="1.8"/>
<path d="M190 283 L192 291" stroke-width="1.46"/>
<path d="M191 283 L194 289" stroke-width="1.22"/>
<path d="M206.6 291.1 L201.6 295.1 L195.5 293 L194.4 286.9 L199.4 282.9 L205.5 285 Z" stroke-width="1.95" fill="#fff"/>
<ellipse cx="201.1" cy="289.4" rx="3.2" ry="3.6" stroke-width="2.07"/>
<ellipse cx="201.4" cy="289.6" rx="1.3" ry="1.6" stroke-width="1.71"/>
<path d="M206.6 291.1 L203.4 289" stroke-width="1.59"/>
<path d="M194.4 286.9 L197.9 290" stroke-width="1.59"/>
<path d="M201.6 295.1 L201.5 292.2" stroke-width="1.59"/>
<ellipse cx="212.5" cy="295" rx="3.5" ry="4.5" stroke-width="2.07" fill="#fff" transform="rotate(-25 212.5 295)"/>
<ellipse cx="213.1" cy="295.2" rx="1.4" ry="2" stroke-width="1.95" transform="rotate(-25 213.1 295.2)"/>
<path d="M217 297.5 L219 298.5"/>
<path d="M221 299.5 L223.5 300.5"/>
<ellipse cx="258" cy="321.5" rx="6.5" ry="5.5" stroke-width="1.59" transform="rotate(25 258 321.5)"/>
<path d="M252 317 L244 312.5"/>
<path d="M250 322.5 L242 317.5"/>
<path d="M244 312.5 L242 317.5"/>
<path d="M246.5 314 L244.5 319"/>
<path d="M249 315.5 L247 320.5"/>
<path d="M254 317 C254.8 316.7 257.3 314.8 259 315 C260.7 315.2 263 316.7 264 318 C265 319.3 264.8 322.2 265 323" stroke-width="1.22"/>
</g>
<g id="lever">
<path d="M502 40 L506 36 L511.5 37.5 L512.5 43 L509.5 49 L504 50 L501 46 Z" stroke-width="1.46"/>
<path d="M506 36 L506.5 42 L504 50"/>
<path d="M506.5 42 L512.5 43"/>
<path d="M501 43.5 L488 50.5"/>
<path d="M503 47.5 L489.5 54.5"/>
<path d="M498 44 L499.8 49"/>
<path d="M495.6 45.3 L497.4 50.3"/>
<path d="M493.2 46.6 L495 51.6"/>
<path d="M490.8 47.9 L492.6 52.9"/>
<path d="M488.4 49.2 L490.2 54.2"/>
<path d="M461.5 58 C462.2 57.2 464.1 54.1 466 53 C467.9 51.9 470.8 51.5 473 51.5 C475.2 51.5 477.8 51.9 479 53 C480.2 54.1 480.1 56 480 58 C479.9 60 478.8 63.8 478.5 65" stroke-width="1.95"/>
<path d="M461.5 58 L461.5 63 L465 63 L462 88" stroke-width="1.95"/>
<path d="M478.5 65 L475 67 L472 91" stroke-width="1.95"/>
<ellipse cx="461" cy="94" rx="3.8" ry="4.4" stroke-width="2.07"/>
<ellipse cx="470.5" cy="96.5" rx="4" ry="4.6" stroke-width="2.07"/>
<ellipse cx="461" cy="94" rx="1.3" ry="1.6" stroke-width="1.71"/>
<ellipse cx="470.5" cy="96.5" rx="1.3" ry="1.6" stroke-width="1.71"/>
<path d="M467 58 L467 63"/>
<ellipse cx="473" cy="57.5" rx="1.5" ry="2"/>
<path d="M470 66 L468 86" stroke-width="1.1"/>
<path d="M451.6 77.4 L447 81.1 L441.4 79.2 L440.4 73.6 L445 69.9 L450.6 71.8 Z" stroke-width="1.95" fill="#fff"/>
<ellipse cx="446.6" cy="75.9" rx="3" ry="3.3" stroke-width="2.07"/>
<ellipse cx="446.9" cy="76.1" rx="1.2" ry="1.5" stroke-width="1.71"/>
<path d="M451.6 77.4 L448.7 75.5" stroke-width="1.59"/>
<path d="M440.4 73.6 L443.6 76.5" stroke-width="1.59"/>
<path d="M447 81.1 L447 78.5" stroke-width="1.59"/>
<path d="M453.5 71.5 L462 66.5"/>
<path d="M521 81 C521.7 80.7 523.8 79 525 79 C526.2 79 527.7 80.2 528 81 C528.3 81.8 526.8 82.8 527 84 C527.2 85.2 528.8 86.5 529 88 C529.2 89.5 528.8 91.4 528 93 C527.2 94.6 525.4 97 524 97.5 C522.6 98 520.5 97.1 519.5 96 C518.5 94.9 518.1 92.8 518 91 C517.9 89.2 518.5 86.7 519 85 C519.5 83.3 520.7 81.7 521 81" stroke-width="1.46"/>
<ellipse cx="523.5" cy="91.5" rx="2" ry="2.8"/>
<path d="M525 84 L529 88"/>
<path d="M484 77 C484.7 76.7 487.5 74.5 488 75 C488.5 75.5 486.3 79.3 487 80 C487.7 80.7 490.8 78.7 492 79 C493.2 79.3 493.7 81.5 494 82" stroke-width="1.22"/>
<path d="M479 86 C479.8 85.8 482.3 84.8 484 85 C485.7 85.2 488.7 87.3 489 87 C489.3 86.7 486.5 83.7 486 83" stroke-width="1.22"/>
<path d="M480 100 C479.7 100.7 478 102.7 478 104 C478 105.3 479.7 107.3 480 108" stroke-width="1.22"/>
<path d="M487 101 C486.7 101.7 484.8 103.7 485 105 C485.2 106.3 487 108.8 488 109 C489 109.2 490.5 106.5 491 106" stroke-width="1.22"/>
<path d="M493 103 C492.7 103.7 491 105.8 491 107 C491 108.2 492.7 109.5 493 110" stroke-width="1.22"/>
<path d="M436 102 C436.3 101.7 437.3 99.8 438 100 C438.7 100.2 440.2 102.2 440 103 C439.8 103.8 437.5 104.7 437 105" stroke-width="1.1"/>
<path d="M444 100 C444.3 99.8 445.3 98.3 446 98.5 C446.7 98.7 447.3 101.1 448 101 C448.7 100.9 449.3 98.2 450 98 C450.7 97.8 451.7 99.7 452 100" stroke-width="1.1"/>
</g>
<g id="plate10">
<ellipse cx="451.5" cy="209.5" rx="41.5" ry="29.5" stroke-width="1.71" fill="#fff" transform="rotate(-64 451.5 209.5)"/>
<path d="M450.9 247.3 L445.5 247.9 L440.3 247.4 L435.5 245.7 L431.3 242.8 L427.7 239 L425 234.2 L423.2 228.6 L422.3 222.5 L422.3 216 L423.4 209.3 L425.4 202.7 L428.3 196.3 L431.9 190.3 L436.3 185 L441.1 180.4 L446.4 176.9 L451.8 174.3 L457.3 172.9 L462.7 172.7 L467.7 173.7 L472.3 175.9 L476.3 179.1 L479.6 183.3 L482 188.4"/>
<path d="M452.4 246.6 L447.2 247.3 L442.3 246.8 L437.8 245.1 L433.8 242.4 L430.4 238.7 L427.9 234.2 L426.2 228.9 L425.3 223 L425.4 216.8 L426.5 210.4 L428.4 204 L431.2 197.8 L434.7 192.1 L438.8 186.9 L443.5 182.5 L448.5 179.1 L453.7 176.6 L458.9 175.3 L464 175 L468.8 175.9 L473.2 178 L476.9 181 L480 185.1 L482.3 189.9"/>
<path d="M453.9 245.9 L449 246.6 L444.3 246.1 L440.1 244.6 L436.3 242.1 L433.1 238.5 L430.7 234.2 L429.1 229.1 L428.4 223.5 L428.6 217.5 L429.6 211.4 L431.4 205.3 L434.1 199.3 L437.5 193.8 L441.4 188.9 L445.9 184.6 L450.6 181.3 L455.6 178.9 L460.5 177.6 L465.4 177.3 L469.9 178.2 L474 180.1 L477.6 183 L480.4 186.8 L482.6 191.5"/>
<ellipse cx="457.5" cy="212" rx="33" ry="23" stroke-width="1.46" transform="rotate(-64 457.5 212)"/>
<path d="M475.9 191.7 L477.3 194 L478.3 196.7 L479.1 199.6 L479.5 202.7 L479.5 206 L479.2 209.4 L478.5 212.9 L477.4 216.3 L476.1 219.7 L474.4 223 L472.5 226.1 L470.3 228.9 L468 231.5 L465.4 233.8 L462.8 235.6 L460.1 237.1 L457.3 238.2 L454.6 238.8 L451.9 239 L449.4 238.7 L447 238 L444.8 236.8 L442.8 235.3 L441.1 233.3" stroke-dasharray="9 3"/>
<path d="M452.9 197.8 L455.2 195.8 L457.6 194.3 L460 193.1 L462.4 192.5 L464.7 192.3 L466.9 192.6 L468.9 193.4 L470.7 194.6 L472.2 196.2 L473.4 198.3 L474.2 200.7 L474.7 203.4 L474.9 206.3 L474.6 209.3 L474 212.5 L473.1 215.6 L471.8 218.7 L470.2 221.7 L468.4 224.4 L466.3 226.9 L464.1 229.1 L461.8 230.9 L459.4 232.3 L456.9 233.2" stroke-dasharray="7 3"/>
<path d="M438 206.5 L437.5 223" stroke-width="2.68"/>
<path d="M443 205 L442 221.5" stroke-width="2.68"/>
<path d="M438 206.5 L443 205" stroke-width="1.71"/>
<path d="M437.5 223 L442 221.5" stroke-width="1.71"/>
<path d="M440.5 208 L440 220" stroke-width="1.22"/>
<ellipse cx="440.5" cy="226.5" rx="2" ry="2.4" stroke-width="2.07"/>
<ellipse cx="448" cy="228" rx="1.8" ry="2.2" stroke-width="1.95"/>
<ellipse cx="444" cy="214" rx="1.5" ry="2" stroke-width="1.83"/>
<path d="M449.5 204 C449.9 202.4 450.9 201.7 452 201.5 C453.1 201.3 455.1 201.9 456 203 C456.9 204.1 457.5 206.3 457.5 208 C457.5 209.7 456.9 211.9 456 213 C455.1 214.1 453.1 214.8 452 214.5 C450.9 214.2 449.9 212.8 449.5 211 C449.1 209.2 449.1 205.6 449.5 204 Z" stroke-width="2.44"/>
<ellipse cx="453" cy="208" rx="1.6" ry="2.4" stroke-width="1.59" transform="rotate(-20 453 208)"/>
<path d="M466 206.5 L465.5 217" stroke-width="2.68"/>
<path d="M470.5 207.5 L470 218.5" stroke-width="2.44"/>
<path d="M475 208.5 L474.5 219" stroke-width="2.68"/>
<path d="M478.5 209.5 L478.5 218" stroke-width="2.2"/>
<path d="M464.5 206 L480 209.5" stroke-width="1.59"/>
<path d="M464.5 217 L480 219" stroke-width="1.59"/>
<path d="M460 188.5 C460.7 188.8 463 189.2 464 190 C465 190.8 465.7 192.9 466 193.5" stroke-width="1.71"/>
<path d="M470 191 C470.7 191.2 472.7 191.4 474 192 C475.3 192.6 476.8 193.1 478 194.5 C479.2 195.9 480.5 199.5 481 200.5" stroke-width="1.71"/>
<path d="M455 196 C455.7 195.7 457.7 193.9 459 194 C460.3 194.1 462.7 195.7 463 196.5 C463.3 197.3 461.3 198.6 461 199" stroke-width="1.59"/>
<path d="M468 197 C468.5 197.4 470.8 198.7 471 199.5 C471.2 200.3 468.5 201.3 469 202 C469.5 202.7 473.2 203.2 474 203.5" stroke-width="1.59"/>
<path d="M480 199 L483.5 201 L481.5 204.5 L485 207" stroke-width="1.59"/>
<path d="M442 238 C443.5 237.8 448 237.5 451 236.5 C454 235.5 457.3 233.7 460 232 C462.7 230.3 465 228.5 467 226.5 C469 224.5 471.2 221.1 472 220" stroke-width="1.46"/>
<path d="M445 242 C446.7 241.7 451.8 241.2 455 240 C458.2 238.8 461.3 236.8 464 235 C466.7 233.2 469.8 230 471 229"/>
<path d="M440 232 L441 238" stroke-width="1.83"/>
<path d="M443.5 231 L444 235" stroke-width="1.71"/>
<path d="M440 232 L444 231" stroke-width="1.46"/>
<path d="M430 200 C430.3 198.8 431 195.2 432 193 C433 190.8 435.3 188 436 187" stroke-width="1.22"/>
<path d="M415 214 L420 211.5 L422.5 215.5 L420.5 238 L431.5 248.5 L422.5 256 L413 260 L407 253 L410.5 241 Z" stroke-width="1.59" fill="#fff"/>
<path d="M417 216 L414 242" stroke-width="1.1"/>
<path d="M414 242 L417 249 L413 254" stroke-width="1.1"/>
<ellipse cx="419" cy="243" rx="1" ry="1.3" stroke-width="1.46"/>
<ellipse cx="423.5" cy="246" rx="1" ry="1.3" stroke-width="1.46"/>
<path d="M418 254 L424 251" stroke-width="1.71"/>
<path d="M456 212.5 L507.5 237.5"/>
</g>
<g id="bolt23">
<path d="M431 258 L448 265"/>
<path d="M428 264 L445 276"/>
<path d="M431 258 L428 264"/>
<path d="M432 259.5 L430.5 265.5" stroke-width="1.46"/>
<path d="M434 260.4 L432.5 266.8" stroke-width="1.46"/>
<path d="M436 261.3 L434.5 268.1" stroke-width="1.46"/>
<path d="M438 262.2 L436.5 269.4" stroke-width="1.46"/>
<ellipse cx="450.5" cy="271" rx="5" ry="7" stroke-width="1.71" fill="#fff" transform="rotate(-15 450.5 271)"/>
<path d="M450 268 L451 274" stroke-width="1.1"/>
</g>
<g id="cam13">
<path d="M487 206.5 L494 204.5 L503 213 L505.5 217.5 L513.5 214 L521.5 223.5 L515 227.5 L508.5 225 L503.5 221 L497 218 L490 215.5 L486.5 211 Z" stroke-width="1.59"/>
<path d="M489 205.5 L487.5 212" stroke-width="1.59"/>
<path d="M491 205.8 L489.7 213.3" stroke-width="1.59"/>
<path d="M493 206.1 L491.9 214.6" stroke-width="1.59"/>
<path d="M495 206.4 L494.1 215.9" stroke-width="1.59"/>
<path d="M497 207.5 L495 217" stroke-width="1.46"/>
<path d="M503 213 L502 220"/>
<path d="M508.5 225 L511 219"/>
<path d="M513 222 L517 220" stroke-width="1.1"/>
</g>
<g id="shoes11">
<path d="M507.8 251.5 C508.1 249.9 508.9 244.8 510 242 C511.1 239.2 512.7 237.3 514.5 235 C516.3 232.7 518.5 230.2 521 228 C523.5 225.8 526.8 223.4 529.5 222 C532.2 220.6 534.5 220 537 219.5 C539.5 219 542 218.7 544.5 219 C547 219.3 549.8 220.3 552 221.5 C554.2 222.7 556.2 224.4 558 226 C559.8 227.6 561.7 229.2 563 231 C564.3 232.8 565.5 235.6 566 236.5" stroke-width="1.83"/>
<path d="M517.5 256 C517.9 254.5 518.8 249.8 520 247 C521.2 244.2 523.2 241.7 525 239.5 C526.8 237.3 528.8 235.6 531 234 C533.2 232.4 536.2 231 538.5 230 C540.8 229 543 228.4 545 228 C547 227.6 548.7 227.2 550.5 227.5 C552.3 227.8 554.2 229 556 230 C557.8 231 560.2 232.9 561 233.5" stroke-width="1.71"/>
<path d="M524.5 257 C525.1 255.5 526.4 250.7 528 248 C529.6 245.3 531.8 242.9 534 241 C536.2 239.1 538.5 237.7 541 236.5 C543.5 235.3 547.7 234.4 549 234" stroke-width="1.46"/>
<path d="M528 258 C528.5 256.7 529.5 252.3 531 250 C532.5 247.7 534.8 245.7 537 244 C539.2 242.3 541.7 241 544 240 C546.3 239 549.8 238.3 551 238" stroke-width="1.46"/>
<path d="M507.8 251.5 L517.5 256 L516.8 265 L508.5 263.5 Z" stroke-width="1.83"/>
<path d="M516.8 265 L524 262" stroke-width="1.59"/>
<path d="M524 262 L524.5 257" stroke-width="1.46"/>
<path d="M507 268.5 L516 271.5 L516 280 L509.5 281 Z" stroke-width="1.83"/>
<path d="M509.5 281 C510.1 281.8 510.7 284.2 513 285.5 C515.3 286.8 520.5 287.8 523.5 288.5 C526.5 289.2 528.5 289.6 531 289.5 C533.5 289.4 536 288.8 538.5 288 C541 287.2 543.8 286 546 284.5 C548.2 283 550.2 280.9 552 279 C553.8 277.1 555.5 275.1 557 273 C558.5 270.9 560.3 267.6 561 266.5" stroke-width="1.83"/>
<path d="M516 276 C517.3 276.7 521.2 279.2 524 280 C526.8 280.8 530.2 280.8 533 280.5 C535.8 280.2 538.5 279.2 541 278 C543.5 276.8 546 274.9 548 273 C550 271.1 552.2 267.6 553 266.5" stroke-width="1.59"/>
<path d="M519 284 C520.5 284.2 525.2 285.4 528 285.5 C530.8 285.6 533.3 285.2 536 284.5 C538.7 283.8 542.7 281.6 544 281"/>
<path d="M516 271.5 C517 270.9 519.7 268.6 522 268 C524.3 267.4 529.2 267.2 530 268 C530.8 268.8 528.7 271.5 527 272.5 C525.3 273.5 521.2 273.8 520 274" stroke-width="1.59"/>
<path d="M532 275 L541 272" stroke-width="1.46"/>
<path d="M526 282.5 L530 277"/>
<path d="M534 282 L545 276" stroke-width="1.22"/>
<path d="M549 243 L556 240.5 L559 246 L552.5 249 Z" stroke-width="2.2"/>
<path d="M551 250 L549 261" stroke-width="2.2"/>
<path d="M555 250.5 L553.5 263" stroke-width="2.2"/>
<path d="M559 250.5 L558 264" stroke-width="2.2"/>
<path d="M562.5 249 L562 262" stroke-width="1.95"/>
<path d="M556 236 C556.7 236.3 558.8 237 560 238 C561.2 239 562.2 240.5 563 242 C563.8 243.5 564.7 246.2 565 247" stroke-width="1.71"/>
<path d="M564.5 250 L566 259" stroke-width="1.71"/>
<path d="M546 247 L548 257" stroke-width="1.71"/>
<path d="M549 237 L553 239" stroke-width="1.59"/>
</g>
<g id="spring12">
<ellipse cx="573" cy="246" rx="2.7" ry="1.6" stroke-width="1.46" transform="rotate(10 573 246)"/>
<ellipse cx="573.2" cy="248.9" rx="2.7" ry="1.6" stroke-width="1.46" transform="rotate(10 573.2 248.9)"/>
<ellipse cx="573.5" cy="251.8" rx="2.7" ry="1.6" stroke-width="1.46" transform="rotate(10 573.5 251.8)"/>
<ellipse cx="573.8" cy="254.7" rx="2.7" ry="1.6" stroke-width="1.46" transform="rotate(10 573.8 254.7)"/>
<ellipse cx="574" cy="257.6" rx="2.7" ry="1.6" stroke-width="1.46" transform="rotate(10 574 257.6)"/>
<ellipse cx="574.2" cy="260.5" rx="2.7" ry="1.6" stroke-width="1.46" transform="rotate(10 574.2 260.5)"/>
<ellipse cx="574.5" cy="263.4" rx="2.7" ry="1.6" stroke-width="1.46" transform="rotate(10 574.5 263.4)"/>
<ellipse cx="574.8" cy="266.3" rx="2.7" ry="1.6" stroke-width="1.46" transform="rotate(10 574.8 266.3)"/>
<ellipse cx="575" cy="269.2" rx="2.7" ry="1.6" stroke-width="1.46" transform="rotate(10 575 269.2)"/>
</g>
<g id="bearings">
<ellipse cx="583.8" cy="280.9" rx="12.5" ry="8.6" stroke-width="1.59" transform="rotate(-63 583.8 280.9)"/>
<ellipse cx="586" cy="282" rx="12.5" ry="8.6" stroke-width="1.95" fill="#fff" transform="rotate(-63 586 282)"/>
<ellipse cx="586.8" cy="282.4" rx="9" ry="5.8" stroke-width="1.83" transform="rotate(-63 586.8 282.4)"/>
<ellipse cx="587.2" cy="282.6" rx="5.2" ry="3.1" stroke-width="1.95" transform="rotate(-63 587.2 282.6)"/>
<ellipse cx="590.2" cy="276.2" rx="1.3" ry="1.6"/>
<ellipse cx="592.1" cy="281.1" rx="1.3" ry="1.6"/>
<ellipse cx="588.8" cy="287.4" rx="1.3" ry="1.6"/>
<ellipse cx="583.8" cy="288.8" rx="1.3" ry="1.6"/>
<ellipse cx="581.9" cy="283.9" rx="1.3" ry="1.6"/>
<ellipse cx="585.2" cy="277.6" rx="1.3" ry="1.6"/>
<ellipse cx="606.3" cy="293.9" rx="12.5" ry="8.6" stroke-width="1.59" transform="rotate(-63 606.3 293.9)"/>
<ellipse cx="608.5" cy="295" rx="12.5" ry="8.6" stroke-width="1.95" fill="#fff" transform="rotate(-63 608.5 295)"/>
<ellipse cx="609.3" cy="295.4" rx="9" ry="5.8" stroke-width="1.83" transform="rotate(-63 609.3 295.4)"/>
<ellipse cx="609.7" cy="295.6" rx="5.2" ry="3.1" stroke-width="1.95" transform="rotate(-63 609.7 295.6)"/>
<ellipse cx="612.7" cy="289.2" rx="1.3" ry="1.6"/>
<ellipse cx="614.6" cy="294.1" rx="1.3" ry="1.6"/>
<ellipse cx="611.3" cy="300.4" rx="1.3" ry="1.6"/>
<ellipse cx="606.3" cy="301.8" rx="1.3" ry="1.6"/>
<ellipse cx="604.4" cy="296.9" rx="1.3" ry="1.6"/>
<ellipse cx="607.7" cy="290.6" rx="1.3" ry="1.6"/>
</g>
<g id="spacer2">
<ellipse cx="624" cy="305" rx="4.6" ry="8.5" stroke-width="1.46" transform="rotate(-25 624 305)"/>
<path d="M627 296.5 L661 313.5"/>
<path d="M621.5 313.5 L655 327"/>
<path d="M661 313.5 C661.3 313.9 662.8 315.1 663 316 C663.2 316.9 662.8 318.5 662 319 C661.2 319.5 658.8 318.5 658 319 C657.2 319.5 656.7 321.2 657 322 C657.3 322.8 659.8 323.2 660 324 C660.2 324.8 659.3 326.5 658.5 327 C657.7 327.5 655.6 327 655 327"/>
</g>
<g id="chain">
<path d="M324 730 C318.3 732.6 301.1 740.2 290 745.5 C278.9 750.8 264.7 759.2 257.5 761.5 C250.3 763.8 249.7 761.8 247 759.5 C244.3 757.2 241.4 752.5 241.5 748 C241.6 743.5 242.8 738.4 247.5 732.5 C252.2 726.6 266.2 715.8 270 712.5" stroke-width="1.46"/>
<path d="M247.5 732.5 C251.2 729.2 257.9 722.5 270 712.5 C282.1 702.5 303.3 685 320 672.5 C336.7 660 355 647.8 370 637.5 C385 627.2 396.9 618.9 410 611 C423.1 603.1 442.1 593.5 448.5 590" stroke-width="1.46" stroke-dasharray="62 3 2 3"/>
<path d="M410 611 C416.4 607.5 436.8 597.3 448.5 590 C460.2 582.7 470.1 573.2 480 567 C489.9 560.8 501 555.2 508 553 C515 550.8 517.7 551.9 522 554 C526.3 556.1 531.4 560.4 534 565.5 C536.6 570.6 538 578.3 537.8 584.8 C537.5 591.2 535.1 597.9 532.5 604 C529.9 610.1 526.7 615.7 522 621.5 C517.3 627.3 511.5 633.8 504.5 639 C497.5 644.2 487.9 649.2 480 653 C472.1 656.8 460.8 660.5 457 662" stroke-width="1.46"/>
<path d="M322 737 C318.3 738.7 310 742.8 300 747 C290 751.2 269.8 760.7 262 762 C254.2 763.3 254.8 757.7 253 755 C251.2 752.3 250.5 749.3 251 746 C251.5 742.7 252 739.8 256 735 C260 730.2 271.8 720.4 275 717.5"/>
<path d="M256 735 C259.2 732.1 261.8 728 275 717.5 C288.2 707 317.5 684.6 335 672 C352.5 659.4 372.5 647 380 642" stroke-dasharray="40 3 2 3"/>
<path d="M380 642 C385 638.3 398.3 628.1 410 620 C421.7 611.9 438 601.6 450 593.5 C462 585.4 472.1 577.6 481.8 571.6 C491.4 565.6 501.9 559.9 508 557.6 C514.1 555.3 514.8 556 518.5 557.6 C522.2 559.2 527.6 562.5 530 567 C532.4 571.5 533.2 578.9 533 584.8 C532.8 590.6 531.4 596.2 529 602 C526.6 607.8 523.2 614.2 518.5 619.8 C513.8 625.3 507.8 630.5 501 635.5 C494.2 640.5 484.8 645.8 478 649.5 C471.2 653.2 463 656.6 460 658" stroke-dasharray="48 3 2 3"/>
</g>
<g id="sprocket6">
<path d="M494.8 541.6 L495.6 544.9 L498.7 544 L498.9 547.7 L502 547.5 L501.7 551.4 L504.6 552 L503.7 556.1 L506.5 557.3 L505.1 561.5 L507.6 563.4 L505.7 567.6 L507.9 570.1 L505.5 574.1 L507.4 577.2 L504.6 581.1 L506.2 584.7 L503 588.2 L504.1 592.2 L500.7 595.4 L501.4 599.7 L497.7 602.5 L498 607.1 L494.2 609.3 L494 614 L490.2 615.7 L489.5 620.4 L485.7 621.6 L484.6 626.2 L481 626.7 L479.5 631.1 L476.1 631 L474.1 635.2 L471 634.5 L468.8 638.2 L466 636.9 L463.5 640.2 L461.1 638.3 L458.4 641.1 L456.5 638.7 L453.6 640.8 L452.2 637.9 L449.2 639.4 L448.4 636.1 L445.3 637 L445.1 633.3 L442 633.5 L442.3 629.6 L439.4 629 L440.3 624.9 L437.5 623.7 L438.9 619.5 L436.4 617.6 L438.3 613.4 L436.1 610.9 L438.5 606.9 L436.6 603.8 L439.4 599.9 L437.8 596.3 L441 592.8 L439.9 588.8 L443.3 585.6 L442.6 581.3 L446.3 578.5 L446 573.9 L449.8 571.7 L450 567 L453.8 565.3 L454.5 560.6 L458.3 559.4 L459.4 554.8 L463 554.3 L464.5 549.9 L467.9 550 L469.9 545.8 L473 546.5 L475.2 542.8 L478 544.1 L480.5 540.8 L482.9 542.7 L485.6 539.9 L487.5 542.3 L490.4 540.2 L491.8 543.1 Z" stroke-width="1.52"/>
<path d="M502.5 557.9 L503.6 562.2 L504.2 566.8 L504.3 571.8 L504 577.1 L503.2 582.6 L501.9 588.2 L500.1 593.9 L497.9 599.5 L495.4 605 L492.4 610.3 L489.2 615.2 L485.7 619.8 L482 624 L478.2 627.6 L474.3 630.7 L470.3 633.1 L466.4 635 L462.5 636.1 L458.8 636.5 L455.4 636.3 L452.1 635.3 L449.2 633.7 L446.6 631.4 L444.5 628.5" stroke-width="1.22"/>
<ellipse cx="473" cy="591" rx="20.5" ry="11.5" stroke-width="1.59" transform="rotate(-65 473 591)"/>
<path d="M477.9 603.5 L476.2 605.3 L474.4 606.7 L472.5 607.8 L470.7 608.5 L469 608.8 L467.4 608.7 L466 608.2 L464.7 607.3 L463.7 606 L462.9 604.4 L462.3 602.5 L462.1 600.4 L462.1 598 L462.4 595.5 L462.9 592.9 L463.7 590.2 L464.8 587.6 L466 585.1 L467.5 582.8 L469.1 580.6 L470.8 578.7 L472.6 577.1 L474.4 575.8 L476.2 574.9" stroke-width="1.22"/>
<ellipse cx="457" cy="570" rx="10.5" ry="3.6" stroke-width="1.59" transform="rotate(-57 457 570)"/>
<ellipse cx="457.6" cy="570.3" rx="8.5" ry="2.2" stroke-width="1.22" transform="rotate(-57 457.6 570.3)"/>
<ellipse cx="495.5" cy="562" rx="7" ry="5" stroke-width="1.59" transform="rotate(-50 495.5 562)"/>
<ellipse cx="496" cy="562.5" rx="5.5" ry="3.5" stroke-width="1.22" transform="rotate(-50 496 562.5)"/>
<path d="M449 618 C449.5 615.3 452.5 613.2 455 613 C457.5 612.8 461.5 614.8 464 617 C466.5 619.2 469.3 623.3 470 626 C470.7 628.7 469.7 631.7 468 633 C466.3 634.3 462.7 634.7 460 634 C457.3 633.3 453.8 631.7 452 629 C450.2 626.3 448.5 620.7 449 618 Z" stroke-width="1.59"/>
<path d="M451.5 619 C451.8 617 453.6 615.5 455.5 615.5 C457.4 615.5 461 617.2 463 619 C465 620.8 467 624 467.5 626 C468 628 467.2 630.1 466 631 C464.8 631.9 462.1 632.1 460 631.5 C457.9 630.9 454.9 629.6 453.5 627.5 C452.1 625.4 451.2 621 451.5 619 Z" stroke-width="1.22"/>
<ellipse cx="492" cy="603" rx="12.5" ry="3.6" stroke-width="1.59" transform="rotate(-68 492 603)"/>
<ellipse cx="492.6" cy="603.3" rx="10.5" ry="2.2" stroke-width="1.22" transform="rotate(-68 492.6 603.3)"/>
<ellipse cx="457" cy="606" rx="1.3" ry="1.6" stroke-width="1.46"/>
<ellipse cx="474" cy="613.5" rx="1.3" ry="1.6" stroke-width="1.46"/>
<ellipse cx="495" cy="583" rx="1.3" ry="1.6" stroke-width="1.46"/>
<ellipse cx="452" cy="596" rx="1.3" ry="1.6" stroke-width="1.46"/>
<ellipse cx="501" cy="585.5" rx="1.3" ry="1.6" stroke-width="1.46"/>
</g>
<g id="bracket8">
<path d="M529 499 L519 495 L516.8 594.4 L494 583" stroke-width="1.46"/>
</g>
<g id="bearing3b">
<ellipse cx="425.8" cy="563.4" rx="12.5" ry="8.6" stroke-width="1.59" transform="rotate(-63 425.8 563.4)"/>
<ellipse cx="428" cy="564.5" rx="12.5" ry="8.6" stroke-width="1.95" fill="#fff" transform="rotate(-63 428 564.5)"/>
<ellipse cx="428.8" cy="564.9" rx="9" ry="5.8" stroke-width="1.83" transform="rotate(-63 428.8 564.9)"/>
<ellipse cx="429.2" cy="565.1" rx="5.2" ry="3.1" stroke-width="1.95" transform="rotate(-63 429.2 565.1)"/>
<ellipse cx="432.2" cy="558.7" rx="1.3" ry="1.6"/>
<ellipse cx="434.1" cy="563.6" rx="1.3" ry="1.6"/>
<ellipse cx="430.8" cy="569.9" rx="1.3" ry="1.6"/>
<ellipse cx="425.8" cy="571.3" rx="1.3" ry="1.6"/>
<ellipse cx="423.9" cy="566.4" rx="1.3" ry="1.6"/>
<ellipse cx="427.2" cy="560.1" rx="1.3" ry="1.6"/>
</g>
<g id="part8">
<path d="M531 503 C531.5 501.6 532.3 499.8 534 499 C535.7 498.2 538.5 497.8 541 498 C543.5 498.2 546.7 498.8 549 500 C551.3 501.2 553.3 503 555 505 C556.7 507 558.4 509.8 559 512 C559.6 514.2 559.3 516.6 558.5 518 C557.7 519.4 555.5 520.7 554 520.5 C552.5 520.3 550.5 518.6 549.5 517 C548.5 515.4 549.1 512.6 548 511 C546.9 509.4 544.7 507.9 543 507.5 C541.3 507.1 539.5 508.1 538 508.5 C536.5 508.9 535.2 510.2 534 510 C532.8 509.8 531.5 508.7 531 507.5 C530.5 506.3 530.5 504.4 531 503 Z" stroke-width="1.71"/>
<ellipse cx="535.5" cy="504.5" rx="2.6" ry="3.3" stroke-width="1.71" transform="rotate(-20 535.5 504.5)"/>
<ellipse cx="554.5" cy="515.5" rx="2.2" ry="2.8" stroke-width="1.59" transform="rotate(-20 554.5 515.5)"/>
<path d="M534 499 C535.1 499.4 538.3 500.5 540.5 501.5 C542.7 502.5 545.4 503.4 547 505 C548.6 506.6 549.5 510 550 511" stroke-width="1.22"/>
<path d="M572.9 523 L568.1 526.9 L562.2 524.8 L561.1 519 L565.9 515.1 L571.8 517.2 Z" stroke-width="1.95" fill="#fff"/>
<ellipse cx="567.6" cy="521.4" rx="3.1" ry="3.5" stroke-width="2.07"/>
<ellipse cx="567.9" cy="521.6" rx="1.3" ry="1.6" stroke-width="1.71"/>
<path d="M572.9 523 L569.8 521" stroke-width="1.59"/>
<path d="M561.1 519 L564.5 522" stroke-width="1.59"/>
<path d="M568.1 526.9 L568 524.1" stroke-width="1.59"/>
</g>
<g id="lower_small">
<ellipse cx="543.5" cy="626.5" rx="12.5" ry="9" stroke-width="1.59" transform="rotate(-63 543.5 626.5)"/>
<ellipse cx="545.5" cy="627.5" rx="12.5" ry="9" stroke-width="1.83" fill="#fff" transform="rotate(-63 545.5 627.5)"/>
<ellipse cx="548" cy="628.5" rx="8.5" ry="5.6" stroke-width="1.59" transform="rotate(-63 548 628.5)"/>
<ellipse cx="549" cy="629" rx="6.5" ry="4" transform="rotate(-63 549 629)"/>
<path d="M563 631 C562.3 631.2 560.1 631.5 559 632.5 C557.9 633.5 557 635.4 556.5 637 C556 638.6 555.8 640.3 556 642 C556.2 643.7 556.8 645.9 557.5 647 C558.2 648.1 559.6 648.2 560 648.5" stroke-width="1.71"/>
<path d="M563 631 L575 635" stroke-width="1.59"/>
<path d="M560 648.5 L570 651" stroke-width="1.59"/>
<ellipse cx="572" cy="642.5" rx="9.3" ry="6.2" stroke-width="1.71" fill="#fff" transform="rotate(-63 572 642.5)"/>
<ellipse cx="573" cy="643" rx="5.8" ry="3.6" stroke-width="1.46" transform="rotate(-63 573 643)"/>
<ellipse cx="586" cy="652.5" rx="6.6" ry="9" stroke-width="1.95" fill="#fff" transform="rotate(-25 586 652.5)"/>
<ellipse cx="586.6" cy="652.9" rx="3" ry="4.6" stroke-width="1.83" transform="rotate(-25 586.6 652.9)"/>
<path d="M592.5 653.4 L596.7 649.5 L604.5 645.9 L605 646.9 L622.7 638.6 L620.3 633.4 L602.5 641.6 L603 642.6 L595.2 646.2 L589.5 646.9" stroke-width="1.59"/>
<path d="M605 646.9 L601.8 642" stroke-width="1.59"/>
<path d="M606.9 646 L603.7 641.1" stroke-width="1.59"/>
<path d="M608.8 645.1 L605.6 640.2" stroke-width="1.59"/>
<path d="M610.7 644.2 L607.5 639.3" stroke-width="1.59"/>
<path d="M612.6 643.3 L609.4 638.4" stroke-width="1.59"/>
<path d="M614.5 642.5 L611.3 637.5" stroke-width="1.59"/>
<path d="M616.4 641.6 L613.2 636.6" stroke-width="1.59"/>
<path d="M618.3 640.7 L615.1 635.8" stroke-width="1.59"/>
<path d="M620.2 639.8 L617 634.9" stroke-width="1.59"/>
<path d="M622.1 638.9 L618.9 634" stroke-width="1.59"/>
<ellipse cx="630" cy="631" rx="3.9" ry="5" stroke-width="2.07" fill="#fff" transform="rotate(-25 630 631)"/>
<ellipse cx="630.6" cy="631.2" rx="1.6" ry="2.2" stroke-width="1.95" transform="rotate(-25 630.6 631.2)"/>
<ellipse cx="641" cy="625" rx="3.9" ry="5" stroke-width="2.07" fill="#fff" transform="rotate(-25 641 625)"/>
<ellipse cx="641.6" cy="625.2" rx="1.6" ry="2.2" stroke-width="1.95" transform="rotate(-25 641.6 625.2)"/>
<path d="M658.9 621 L654.1 624.9 L648.2 622.8 L647.1 617 L651.9 613.1 L657.8 615.2 Z" stroke-width="1.95" fill="#fff"/>
<ellipse cx="653.6" cy="619.4" rx="3.1" ry="3.5" stroke-width="2.07"/>
<ellipse cx="653.9" cy="619.6" rx="1.3" ry="1.6" stroke-width="1.71"/>
<path d="M658.9 621 L655.8 619" stroke-width="1.59"/>
<path d="M647.1 617 L650.5 620" stroke-width="1.59"/>
<path d="M654.1 624.9 L654 622.1" stroke-width="1.59"/>
<path d="M598 660 C598.5 658.5 599.5 656.8 601 656 C602.5 655.2 605.2 654.7 607 655 C608.8 655.3 610.8 656.7 612 658 C613.2 659.3 614 661.2 614 663 C614 664.8 613.2 667.5 612 669 C610.8 670.5 608.8 671.8 607 672 C605.2 672.2 602.5 671.2 601 670 C599.5 668.8 598.5 666.7 598 665 C597.5 663.3 597.5 661.5 598 660 Z" stroke-width="2.07"/>
<path d="M603 656.5 L604 671" stroke-width="1.83"/>
<path d="M608 655.5 L609 671.5" stroke-width="1.83"/>
<path d="M599 663 L614 662" stroke-width="1.71"/>
<path d="M612 658 L616 656.5" stroke-width="1.71"/>
<path d="M614 664 L617.5 663" stroke-width="1.71"/>
<ellipse cx="606" cy="664" rx="2" ry="2.5" stroke-width="2.44"/>
<path d="M600 667 L605 670" stroke-width="2.2"/>
<path d="M609 667 L613 661" stroke-width="1.95"/>
<path d="M611 670 L615 668" stroke-width="1.59"/>
<path d="M600.5 659 L604 661" stroke-width="1.95"/>
</g>
<g id="chain20">
<ellipse cx="408.4" cy="689.1" rx="2.5" ry="2.1" stroke-width="1.95" transform="rotate(-24.6 408.4 689.1)"/>
<ellipse cx="405.6" cy="682.9" rx="2.5" ry="2.1" stroke-width="1.95" transform="rotate(-24.6 405.6 682.9)"/>
<ellipse cx="412.7" cy="688" rx="3.6" ry="1.1" stroke-width="1.59" transform="rotate(-24.6 412.7 688)"/>
<ellipse cx="409.2" cy="680.4" rx="3.6" ry="1.1" stroke-width="1.59" transform="rotate(-24.6 409.2 680.4)"/>
<ellipse cx="415.9" cy="684.8" rx="2.5" ry="2.1" stroke-width="1.95" transform="rotate(-24.6 415.9 684.8)"/>
<ellipse cx="413.8" cy="680.1" rx="2.5" ry="2.1" stroke-width="1.95" transform="rotate(-24.6 413.8 680.1)"/>
<ellipse cx="420.5" cy="684.4" rx="3.6" ry="1.1" stroke-width="1.59" transform="rotate(-24.6 420.5 684.4)"/>
<ellipse cx="417" cy="676.8" rx="3.6" ry="1.1" stroke-width="1.59" transform="rotate(-24.6 417 676.8)"/>
<ellipse cx="424.1" cy="681.9" rx="2.5" ry="2.1" stroke-width="1.95" transform="rotate(-24.6 424.1 681.9)"/>
<ellipse cx="421.3" cy="675.7" rx="2.5" ry="2.1" stroke-width="1.95" transform="rotate(-24.6 421.3 675.7)"/>
<ellipse cx="428.3" cy="680.9" rx="3.6" ry="1.1" stroke-width="1.59" transform="rotate(-24.6 428.3 680.9)"/>
<ellipse cx="424.8" cy="673.2" rx="3.6" ry="1.1" stroke-width="1.59" transform="rotate(-24.6 424.8 673.2)"/>
<ellipse cx="431.6" cy="677.6" rx="2.5" ry="2.1" stroke-width="1.95" transform="rotate(-24.6 431.6 677.6)"/>
<ellipse cx="429.4" cy="672.9" rx="2.5" ry="2.1" stroke-width="1.95" transform="rotate(-24.6 429.4 672.9)"/>
<ellipse cx="436.2" cy="677.3" rx="3.6" ry="1.1" stroke-width="1.59" transform="rotate(-24.6 436.2 677.3)"/>
<ellipse cx="432.7" cy="669.6" rx="3.6" ry="1.1" stroke-width="1.59" transform="rotate(-24.6 432.7 669.6)"/>
<ellipse cx="439.7" cy="674.8" rx="2.5" ry="2.1" stroke-width="1.95" transform="rotate(-24.6 439.7 674.8)"/>
<ellipse cx="436.9" cy="668.6" rx="2.5" ry="2.1" stroke-width="1.95" transform="rotate(-24.6 436.9 668.6)"/>
<ellipse cx="444" cy="673.7" rx="3.6" ry="1.1" stroke-width="1.59" transform="rotate(-24.6 444 673.7)"/>
<ellipse cx="440.5" cy="666.1" rx="3.6" ry="1.1" stroke-width="1.59" transform="rotate(-24.6 440.5 666.1)"/>
<ellipse cx="447.2" cy="670.4" rx="2.5" ry="2.1" stroke-width="1.95" transform="rotate(-24.6 447.2 670.4)"/>
<ellipse cx="445.1" cy="665.7" rx="2.5" ry="2.1" stroke-width="1.95" transform="rotate(-24.6 445.1 665.7)"/>
<ellipse cx="451.8" cy="670.1" rx="3.6" ry="1.1" stroke-width="1.59" transform="rotate(-24.6 451.8 670.1)"/>
<ellipse cx="448.3" cy="662.5" rx="3.6" ry="1.1" stroke-width="1.59" transform="rotate(-24.6 448.3 662.5)"/>
<ellipse cx="455.4" cy="667.6" rx="2.5" ry="2.1" stroke-width="1.95" transform="rotate(-24.6 455.4 667.6)"/>
<ellipse cx="452.6" cy="661.4" rx="2.5" ry="2.1" stroke-width="1.95" transform="rotate(-24.6 452.6 661.4)"/>
<ellipse cx="328.3" cy="726.1" rx="2.5" ry="2.1" stroke-width="1.95" transform="rotate(-22.5 328.3 726.1)"/>
<ellipse cx="325.7" cy="719.9" rx="2.5" ry="2.1" stroke-width="1.95" transform="rotate(-22.5 325.7 719.9)"/>
<ellipse cx="332.7" cy="725.2" rx="3.7" ry="1.1" stroke-width="1.59" transform="rotate(-22.5 332.7 725.2)"/>
<ellipse cx="329.5" cy="717.4" rx="3.7" ry="1.1" stroke-width="1.59" transform="rotate(-22.5 329.5 717.4)"/>
<ellipse cx="336.2" cy="722" rx="2.5" ry="2.1" stroke-width="1.95" transform="rotate(-22.5 336.2 722)"/>
<ellipse cx="334.2" cy="717.2" rx="2.5" ry="2.1" stroke-width="1.95" transform="rotate(-22.5 334.2 717.2)"/>
<ellipse cx="340.9" cy="721.8" rx="3.7" ry="1.1" stroke-width="1.59" transform="rotate(-22.5 340.9 721.8)"/>
<ellipse cx="337.7" cy="714" rx="3.7" ry="1.1" stroke-width="1.59" transform="rotate(-22.5 337.7 714)"/>
<ellipse cx="344.7" cy="719.3" rx="2.5" ry="2.1" stroke-width="1.95" transform="rotate(-22.5 344.7 719.3)"/>
<ellipse cx="342.1" cy="713.1" rx="2.5" ry="2.1" stroke-width="1.95" transform="rotate(-22.5 342.1 713.1)"/>
<ellipse cx="349.1" cy="718.4" rx="3.7" ry="1.1" stroke-width="1.59" transform="rotate(-22.5 349.1 718.4)"/>
<ellipse cx="345.9" cy="710.6" rx="3.7" ry="1.1" stroke-width="1.59" transform="rotate(-22.5 345.9 710.6)"/>
<ellipse cx="352.6" cy="715.2" rx="2.5" ry="2.1" stroke-width="1.95" transform="rotate(-22.5 352.6 715.2)"/>
<ellipse cx="350.6" cy="710.4" rx="2.5" ry="2.1" stroke-width="1.95" transform="rotate(-22.5 350.6 710.4)"/>
<ellipse cx="357.3" cy="715" rx="3.7" ry="1.1" stroke-width="1.59" transform="rotate(-22.5 357.3 715)"/>
<ellipse cx="354.1" cy="707.2" rx="3.7" ry="1.1" stroke-width="1.59" transform="rotate(-22.5 354.1 707.2)"/>
<ellipse cx="361.1" cy="712.5" rx="2.5" ry="2.1" stroke-width="1.95" transform="rotate(-22.5 361.1 712.5)"/>
<ellipse cx="358.5" cy="706.3" rx="2.5" ry="2.1" stroke-width="1.95" transform="rotate(-22.5 358.5 706.3)"/>
<ellipse cx="365.5" cy="711.6" rx="3.7" ry="1.1" stroke-width="1.59" transform="rotate(-22.5 365.5 711.6)"/>
<ellipse cx="362.3" cy="703.8" rx="3.7" ry="1.1" stroke-width="1.59" transform="rotate(-22.5 362.3 703.8)"/>
<ellipse cx="369" cy="708.4" rx="2.5" ry="2.1" stroke-width="1.95" transform="rotate(-22.5 369 708.4)"/>
<ellipse cx="367" cy="703.6" rx="2.5" ry="2.1" stroke-width="1.95" transform="rotate(-22.5 367 703.6)"/>
<ellipse cx="384" cy="692" rx="6.5" ry="2.6" stroke-width="2.07" transform="rotate(-28 384 692)"/>
<ellipse cx="390" cy="696" rx="6.5" ry="2.6" stroke-width="2.07" transform="rotate(-28 390 696)"/>
<ellipse cx="379.5" cy="695" rx="1.8" ry="1.8" stroke-width="2.07"/>
<ellipse cx="395" cy="693" rx="1.8" ry="1.8" stroke-width="2.07"/>
<ellipse cx="387" cy="694" rx="1.6" ry="1.6" stroke-width="1.83"/>
<path d="M384 699 C383.5 700.2 385.2 703.2 386 705 C386.8 706.8 387.8 709 389 709.5 C390.2 710 392.5 709.2 393 708 C393.5 706.8 392.7 703.7 392 702 C391.3 700.3 390.3 698.5 389 698 C387.7 697.5 384.5 697.8 384 699 Z" stroke-width="1.71"/>
<path d="M388 703 L391 707" stroke-width="1.46"/>
<path d="M372.5 703.5 L376.5 701.5"/>
<path d="M398 690.5 L402 688.5"/>
<path d="M432.5 685 L454 724 L412.5 746 L406 727.5" stroke-width="1.46"/>
<path d="M435 736 L436.5 740"/>
</g>
<g id="fwd">
<path d="M160 758 L171 739.5 L173 742.5 L194 731 L196 746.5 L175.5 758.5 L174.5 765 Z" stroke-width="1.59"/>
<path d="M173 742.5 L175.5 758.5" stroke-width="1.46"/>
<path d="M160 758 L162 760.5 L175.5 767 L174.5 765"/>
<path d="M196 746.5 L197 749"/>
<path d="M197 749 L176.5 761" stroke-width="1.22"/>
<text x="185" y="751" font-size="9.5" font-weight="bold" font-style="italic" fill="#111" stroke="none" text-anchor="middle" transform="rotate(-29 185 747)" letter-spacing="-0.3">FWD</text>
</g>
<g id="specks">
<path d="M105 797 L105.8 797.4" stroke-width="1.1"/>
<path d="M109 798 L109.8 798.4" stroke-width="1.1"/>
<path d="M131 796 L131.8 796.4" stroke-width="1.1"/>
<path d="M146 798 L146.8 798.4" stroke-width="1.1"/>
<path d="M193 795.5 L193.8 795.9" stroke-width="1.1"/>
<path d="M191 798.5 L191.8 798.9" stroke-width="1.1"/>
<path d="M203 798 L203.8 798.4" stroke-width="1.1"/>
<path d="M208 797 L208.8 797.4" stroke-width="1.1"/>
<path d="M214 798.5 L214.8 798.9" stroke-width="1.1"/>
<path d="M296 797 L296.8 797.4" stroke-width="1.1"/>
<path d="M393 796 L393.8 796.4" stroke-width="1.1"/>
</g>
<g id="labels" font-size="13" fill="#111" text-anchor="middle" stroke="#111" stroke-width="0.45">
<text x="455" y="37" font-size="14" letter-spacing="1">15</text>
<text x="435.5" y="50" font-size="14" letter-spacing="1">14</text>
<text x="411.5" y="60.5" font-size="14" letter-spacing="1">16</text>
<text x="564.5" y="74" font-size="14" letter-spacing="1">17</text>
<text x="421.5" y="99" font-size="14" letter-spacing="1">35</text>
<text x="398.5" y="111" font-size="14" letter-spacing="1">36</text>
<text x="377.5" y="125" font-size="14" letter-spacing="1">37</text>
<text x="335" y="112.5" font-size="14" letter-spacing="1">31</text>
<text x="319.5" y="178" font-size="14" letter-spacing="1">29</text>
<text x="342.5" y="191" font-size="14" letter-spacing="1">34</text>
<text x="374.5" y="210" font-size="14" letter-spacing="1">32</text>
<text x="248" y="201" font-size="14" letter-spacing="1">28</text>
<text x="276.5" y="217.5" font-size="14" letter-spacing="1">25</text>
<text x="304.5" y="230.5" font-size="14" letter-spacing="1">26</text>
<text x="220.5" y="249.5" font-size="14" letter-spacing="1">22</text>
<text x="492.5" y="166" font-size="14" letter-spacing="1">10</text>
<text x="542" y="199.5" font-size="14" letter-spacing="1">13</text>
<text x="591.5" y="224" font-size="14" letter-spacing="1">12</text>
<text x="614.3" y="235" font-size="14" letter-spacing="1">5</text>
<text x="634.8" y="249" font-size="14" letter-spacing="1">3</text>
<text x="661.3" y="259" font-size="14" letter-spacing="1">2</text>
<text x="474.5" y="284" font-size="14" letter-spacing="1">11</text>
<text x="425" y="296" font-size="14" letter-spacing="1">23</text>
<text x="158.5" y="315" font-size="14" letter-spacing="1">27</text>
<text x="180.5" y="326" font-size="14" letter-spacing="1">25</text>
<text x="199.5" y="335" font-size="14" letter-spacing="1">26</text>
<text x="216.5" y="349" font-size="14" letter-spacing="1">24</text>
<text x="319.5" y="295" font-size="14" letter-spacing="1">18</text>
<text x="286.5" y="311.5" font-size="14" letter-spacing="1">19</text>
<text x="243.8" y="398.5" font-size="14" letter-spacing="1">7</text>
<text x="204.3" y="484.5" font-size="14" letter-spacing="1">1</text>
<text x="478.3" y="499" font-size="14" letter-spacing="1">6</text>
<text x="561.3" y="476" font-size="14" letter-spacing="1">8</text>
<text x="590.3" y="490" font-size="14" letter-spacing="1">9</text>
<text x="399.3" y="615" font-size="14" letter-spacing="1">3</text>
<text x="651.5" y="576" font-size="14" letter-spacing="1">35</text>
<text x="623.5" y="594" font-size="14" letter-spacing="1">36</text>
<text x="595.5" y="609.5" font-size="14" letter-spacing="1">37</text>
<text x="519.8" y="674" font-size="14" letter-spacing="1">4</text>
<text x="553" y="692.5" font-size="14" letter-spacing="1">33</text>
<text x="581" y="704" font-size="14" letter-spacing="1">34</text>
<text x="611" y="721" font-size="14" letter-spacing="1">30</text>
<text x="396.5" y="735.5" font-size="14" letter-spacing="1">21</text>
<text x="441.5" y="755" font-size="14" letter-spacing="1">20</text>
<text x="177.5" y="786.1" font-size="11.5" letter-spacing="0.8" stroke-width="0.15">2FR310-6270</text>
</g>
<g id="leaders">
<path d="M465 34.5 L501 45"/>
<path d="M445 49 L462.5 59"/>
<path d="M421 61 L441 71"/>
<path d="M556 72.5 L531 86"/>
<path d="M425 101 L430 119"/>
<path d="M406 114 L415 126"/>
<path d="M387.5 126 L401 135.5"/>
<path d="M344 114 L354 124"/>
<path d="M329 166 L346 154"/>
<path d="M354 180 L366 171"/>
<path d="M379 196 L387.5 184"/>
<path d="M264 195 L306 192.5"/>
<path d="M291 212.5 L324 206"/>
<path d="M317.5 222 L337.5 214.5"/>
<path d="M234 251 L265 275"/>
<path d="M487.5 167.5 L479 179"/>
<path d="M534 199 L516 214"/>
<path d="M586 225 L575 244"/>
<path d="M610 237.5 L591 269"/>
<path d="M631 251 L614 280"/>
<path d="M659 264 L640 302.5"/>
<path d="M485 272.5 L507.5 251"/>
<path d="M485 272.5 L506 274"/>
<path d="M431 284 L441 274"/>
<path d="M170 302.5 L189 291"/>
<path d="M189 312.5 L199 296"/>
<path d="M201 320 L210 300"/>
<path d="M227.5 336 L250 324"/>
<path d="M319 297 L319 324"/>
<path d="M286 314 L282 352"/>
<path d="M244 401 L244 434"/>
<path d="M211 482 L256 499"/>
<path d="M478 505 L476 541"/>
<path d="M559 479 L549.5 500"/>
<path d="M587 492.5 L572.5 516"/>
<path d="M402.5 602.5 L419 580"/>
<path d="M652 579 L652 612.5"/>
<path d="M627.5 596 L639 620"/>
<path d="M604 609 L627.5 627.5"/>
<path d="M525 660 L540 639"/>
<path d="M555 679 L564.5 650"/>
<path d="M582 690 L582.5 661"/>
<path d="M609 707.5 L607.5 672.5"/>
<path d="M395 720 L390 707.5"/>
</g>
</g>
</svg>
</body></html>
